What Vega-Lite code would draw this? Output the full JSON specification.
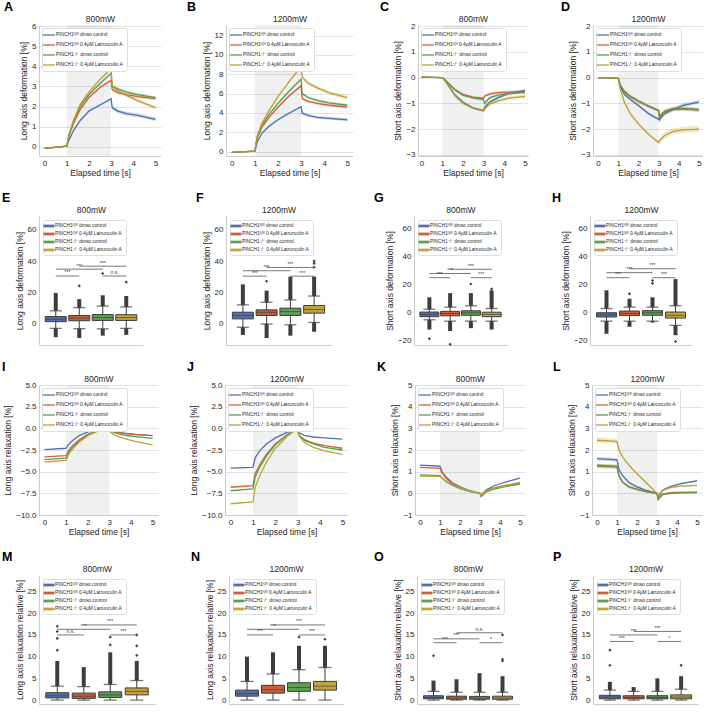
{
"$schema": "https://vega.github.io/schema/vega-lite/v6.json",
"padding": {"left": 2, "top": 0, "right": 0, "bottom": 0},
"spacing": 14,
"resolve": {"scale": {"color": "independent"}},
"datasets": {
"shade": [{"a": 1, "b": 3}],
"lines": [
{"p":"A","g":0,"t":0,"v":-0.07,"e":0.02},{"p":"A","g":0,"t":1,"v":0.04,"e":0.02},{"p":"A","g":0,"t":1.1,"v":0.35,"e":0.05},{"p":"A","g":0,"t":1.3,"v":0.8,"e":0.05},{"p":"A","g":0,"t":1.6,"v":1.3,"e":0.05},{"p":"A","g":0,"t":2,"v":1.78,"e":0.05},{"p":"A","g":0,"t":2.5,"v":2.08,"e":0.05},{"p":"A","g":0,"t":3,"v":2.39,"e":0.05},{"p":"A","g":0,"t":3.05,"v":1.95,"e":0.1},{"p":"A","g":0,"t":3.3,"v":1.78,"e":0.1},{"p":"A","g":0,"t":3.7,"v":1.65,"e":0.1},{"p":"A","g":0,"t":4.2,"v":1.57,"e":0.1},{"p":"A","g":0,"t":5,"v":1.37,"e":0.1},
{"p":"A","g":1,"t":0,"v":-0.07,"e":0.02},{"p":"A","g":1,"t":1,"v":0.04,"e":0.02},{"p":"A","g":1,"t":1.1,"v":0.55,"e":0.05},{"p":"A","g":1,"t":1.3,"v":1.15,"e":0.05},{"p":"A","g":1,"t":1.6,"v":1.85,"e":0.05},{"p":"A","g":1,"t":2,"v":2.45,"e":0.05},{"p":"A","g":1,"t":2.5,"v":2.95,"e":0.05},{"p":"A","g":1,"t":3,"v":3.3,"e":0.05},{"p":"A","g":1,"t":3.05,"v":2.85,"e":0.08},{"p":"A","g":1,"t":3.3,"v":2.7,"e":0.08},{"p":"A","g":1,"t":3.7,"v":2.6,"e":0.08},{"p":"A","g":1,"t":4.2,"v":2.5,"e":0.08},{"p":"A","g":1,"t":5,"v":2.4,"e":0.08},
{"p":"A","g":2,"t":0,"v":-0.07,"e":0.02},{"p":"A","g":2,"t":1,"v":0.04,"e":0.02},{"p":"A","g":2,"t":1.1,"v":0.6,"e":0.05},{"p":"A","g":2,"t":1.3,"v":1.25,"e":0.05},{"p":"A","g":2,"t":1.6,"v":2.0,"e":0.05},{"p":"A","g":2,"t":2,"v":2.6,"e":0.05},{"p":"A","g":2,"t":2.5,"v":3.15,"e":0.05},{"p":"A","g":2,"t":3,"v":3.65,"e":0.05},{"p":"A","g":2,"t":3.05,"v":3.0,"e":0.08},{"p":"A","g":2,"t":3.3,"v":2.88,"e":0.08},{"p":"A","g":2,"t":3.7,"v":2.72,"e":0.08},{"p":"A","g":2,"t":4.2,"v":2.6,"e":0.08},{"p":"A","g":2,"t":5,"v":2.45,"e":0.08},
{"p":"A","g":3,"t":0,"v":-0.07,"e":0.02},{"p":"A","g":3,"t":1,"v":0.04,"e":0.02},{"p":"A","g":3,"t":1.1,"v":0.6,"e":0.05},{"p":"A","g":3,"t":1.3,"v":1.3,"e":0.05},{"p":"A","g":3,"t":1.6,"v":2.1,"e":0.05},{"p":"A","g":3,"t":2,"v":2.72,"e":0.05},{"p":"A","g":3,"t":2.5,"v":3.35,"e":0.05},{"p":"A","g":3,"t":3,"v":3.88,"e":0.05},{"p":"A","g":3,"t":3.05,"v":3.0,"e":0.08},{"p":"A","g":3,"t":3.3,"v":2.8,"e":0.08},{"p":"A","g":3,"t":3.7,"v":2.55,"e":0.08},{"p":"A","g":3,"t":4.2,"v":2.3,"e":0.08},{"p":"A","g":3,"t":5,"v":1.95,"e":0.08},
{"p":"B","g":0,"t":0,"v":-0.08,"e":0.03},{"p":"B","g":0,"t":1,"v":0.05,"e":0.03},{"p":"B","g":0,"t":1.1,"v":1.0,"e":0.1},{"p":"B","g":0,"t":1.3,"v":1.9,"e":0.1},{"p":"B","g":0,"t":1.6,"v":2.6,"e":0.1},{"p":"B","g":0,"t":2,"v":3.3,"e":0.1},{"p":"B","g":0,"t":2.5,"v":4.0,"e":0.1},{"p":"B","g":0,"t":3,"v":4.65,"e":0.1},{"p":"B","g":0,"t":3.05,"v":4.0,"e":0.15},{"p":"B","g":0,"t":3.3,"v":3.75,"e":0.15},{"p":"B","g":0,"t":3.7,"v":3.55,"e":0.15},{"p":"B","g":0,"t":4.2,"v":3.45,"e":0.15},{"p":"B","g":0,"t":5,"v":3.3,"e":0.15},
{"p":"B","g":1,"t":0,"v":-0.08,"e":0.03},{"p":"B","g":1,"t":1,"v":0.05,"e":0.03},{"p":"B","g":1,"t":1.1,"v":1.4,"e":0.1},{"p":"B","g":1,"t":1.3,"v":2.5,"e":0.1},{"p":"B","g":1,"t":1.6,"v":3.5,"e":0.1},{"p":"B","g":1,"t":2,"v":4.6,"e":0.1},{"p":"B","g":1,"t":2.5,"v":5.8,"e":0.1},{"p":"B","g":1,"t":3,"v":6.8,"e":0.1},{"p":"B","g":1,"t":3.05,"v":5.5,"e":0.15},{"p":"B","g":1,"t":3.3,"v":5.2,"e":0.15},{"p":"B","g":1,"t":3.7,"v":5.0,"e":0.15},{"p":"B","g":1,"t":4.2,"v":4.8,"e":0.15},{"p":"B","g":1,"t":5,"v":4.6,"e":0.15},
{"p":"B","g":2,"t":0,"v":-0.08,"e":0.03},{"p":"B","g":2,"t":1,"v":0.05,"e":0.03},{"p":"B","g":2,"t":1.1,"v":1.5,"e":0.1},{"p":"B","g":2,"t":1.3,"v":2.7,"e":0.1},{"p":"B","g":2,"t":1.6,"v":3.8,"e":0.1},{"p":"B","g":2,"t":2,"v":5.0,"e":0.1},{"p":"B","g":2,"t":2.5,"v":6.3,"e":0.1},{"p":"B","g":2,"t":3,"v":7.5,"e":0.1},{"p":"B","g":2,"t":3.05,"v":6.0,"e":0.15},{"p":"B","g":2,"t":3.3,"v":5.6,"e":0.15},{"p":"B","g":2,"t":3.7,"v":5.3,"e":0.15},{"p":"B","g":2,"t":4.2,"v":5.05,"e":0.15},{"p":"B","g":2,"t":5,"v":4.8,"e":0.15},
{"p":"B","g":3,"t":0,"v":-0.08,"e":0.03},{"p":"B","g":3,"t":1,"v":0.05,"e":0.03},{"p":"B","g":3,"t":1.1,"v":1.6,"e":0.1},{"p":"B","g":3,"t":1.3,"v":2.9,"e":0.1},{"p":"B","g":3,"t":1.6,"v":4.2,"e":0.1},{"p":"B","g":3,"t":2,"v":5.7,"e":0.1},{"p":"B","g":3,"t":2.5,"v":7.3,"e":0.1},{"p":"B","g":3,"t":3,"v":8.8,"e":0.1},{"p":"B","g":3,"t":3.05,"v":7.7,"e":0.2},{"p":"B","g":3,"t":3.3,"v":7.1,"e":0.2},{"p":"B","g":3,"t":3.7,"v":6.6,"e":0.2},{"p":"B","g":3,"t":4.2,"v":6.1,"e":0.2},{"p":"B","g":3,"t":5,"v":5.6,"e":0.2},
{"p":"C","g":0,"t":0,"v":0.02,"e":0.01},{"p":"C","g":0,"t":1,"v":0,"e":0.01},{"p":"C","g":0,"t":1.1,"v":-0.08,"e":0.04},{"p":"C","g":0,"t":1.3,"v":-0.3,"e":0.04},{"p":"C","g":0,"t":1.6,"v":-0.65,"e":0.04},{"p":"C","g":0,"t":2,"v":-0.95,"e":0.04},{"p":"C","g":0,"t":2.5,"v":-1.18,"e":0.04},{"p":"C","g":0,"t":3,"v":-1.28,"e":0.04},{"p":"C","g":0,"t":3.05,"v":-1.15,"e":0.06},{"p":"C","g":0,"t":3.3,"v":-0.95,"e":0.06},{"p":"C","g":0,"t":3.7,"v":-0.78,"e":0.06},{"p":"C","g":0,"t":4.2,"v":-0.62,"e":0.06},{"p":"C","g":0,"t":5,"v":-0.5,"e":0.06},
{"p":"C","g":1,"t":0,"v":0.02,"e":0.01},{"p":"C","g":1,"t":1,"v":0,"e":0.01},{"p":"C","g":1,"t":1.1,"v":-0.06,"e":0.04},{"p":"C","g":1,"t":1.3,"v":-0.22,"e":0.04},{"p":"C","g":1,"t":1.6,"v":-0.45,"e":0.04},{"p":"C","g":1,"t":2,"v":-0.65,"e":0.04},{"p":"C","g":1,"t":2.5,"v":-0.76,"e":0.04},{"p":"C","g":1,"t":3,"v":-0.8,"e":0.04},{"p":"C","g":1,"t":3.05,"v":-0.72,"e":0.06},{"p":"C","g":1,"t":3.3,"v":-0.63,"e":0.06},{"p":"C","g":1,"t":3.7,"v":-0.58,"e":0.06},{"p":"C","g":1,"t":4.2,"v":-0.56,"e":0.06},{"p":"C","g":1,"t":5,"v":-0.55,"e":0.06},
{"p":"C","g":2,"t":0,"v":0.02,"e":0.01},{"p":"C","g":2,"t":1,"v":0,"e":0.01},{"p":"C","g":2,"t":1.1,"v":-0.06,"e":0.04},{"p":"C","g":2,"t":1.3,"v":-0.22,"e":0.04},{"p":"C","g":2,"t":1.6,"v":-0.47,"e":0.04},{"p":"C","g":2,"t":2,"v":-0.68,"e":0.04},{"p":"C","g":2,"t":2.5,"v":-0.8,"e":0.04},{"p":"C","g":2,"t":3,"v":-0.85,"e":0.04},{"p":"C","g":2,"t":3.05,"v":-1.0,"e":0.06},{"p":"C","g":2,"t":3.3,"v":-0.78,"e":0.06},{"p":"C","g":2,"t":3.7,"v":-0.68,"e":0.06},{"p":"C","g":2,"t":4.2,"v":-0.62,"e":0.06},{"p":"C","g":2,"t":5,"v":-0.57,"e":0.06},
{"p":"C","g":3,"t":0,"v":0.02,"e":0.01},{"p":"C","g":3,"t":1,"v":0,"e":0.01},{"p":"C","g":3,"t":1.1,"v":-0.08,"e":0.04},{"p":"C","g":3,"t":1.3,"v":-0.32,"e":0.04},{"p":"C","g":3,"t":1.6,"v":-0.7,"e":0.04},{"p":"C","g":3,"t":2,"v":-1.0,"e":0.04},{"p":"C","g":3,"t":2.5,"v":-1.2,"e":0.04},{"p":"C","g":3,"t":3,"v":-1.3,"e":0.04},{"p":"C","g":3,"t":3.05,"v":-1.22,"e":0.08},{"p":"C","g":3,"t":3.3,"v":-1.02,"e":0.08},{"p":"C","g":3,"t":3.7,"v":-0.9,"e":0.08},{"p":"C","g":3,"t":4.2,"v":-0.8,"e":0.08},{"p":"C","g":3,"t":5,"v":-0.73,"e":0.08},
{"p":"D","g":0,"t":0,"v":0,"e":0.01},{"p":"D","g":0,"t":1,"v":-0.02,"e":0.01},{"p":"D","g":0,"t":1.1,"v":-0.35,"e":0.05},{"p":"D","g":0,"t":1.3,"v":-0.65,"e":0.05},{"p":"D","g":0,"t":1.6,"v":-0.85,"e":0.05},{"p":"D","g":0,"t":2,"v":-1.08,"e":0.05},{"p":"D","g":0,"t":2.5,"v":-1.4,"e":0.05},{"p":"D","g":0,"t":3,"v":-1.62,"e":0.05},{"p":"D","g":0,"t":3.05,"v":-1.55,"e":0.08},{"p":"D","g":0,"t":3.3,"v":-1.4,"e":0.08},{"p":"D","g":0,"t":3.7,"v":-1.25,"e":0.08},{"p":"D","g":0,"t":4.2,"v":-1.08,"e":0.08},{"p":"D","g":0,"t":5,"v":-0.95,"e":0.08},
{"p":"D","g":1,"t":0,"v":0,"e":0.01},{"p":"D","g":1,"t":1,"v":-0.02,"e":0.01},{"p":"D","g":1,"t":1.1,"v":-0.3,"e":0.05},{"p":"D","g":1,"t":1.3,"v":-0.55,"e":0.05},{"p":"D","g":1,"t":1.6,"v":-0.75,"e":0.05},{"p":"D","g":1,"t":2,"v":-0.93,"e":0.05},{"p":"D","g":1,"t":2.5,"v":-1.12,"e":0.05},{"p":"D","g":1,"t":3,"v":-1.28,"e":0.05},{"p":"D","g":1,"t":3.05,"v":-1.5,"e":0.08},{"p":"D","g":1,"t":3.3,"v":-1.3,"e":0.08},{"p":"D","g":1,"t":3.7,"v":-1.22,"e":0.08},{"p":"D","g":1,"t":4.2,"v":-1.22,"e":0.08},{"p":"D","g":1,"t":5,"v":-1.25,"e":0.08},
{"p":"D","g":2,"t":0,"v":0,"e":0.01},{"p":"D","g":2,"t":1,"v":-0.02,"e":0.01},{"p":"D","g":2,"t":1.1,"v":-0.28,"e":0.05},{"p":"D","g":2,"t":1.3,"v":-0.52,"e":0.05},{"p":"D","g":2,"t":1.6,"v":-0.72,"e":0.05},{"p":"D","g":2,"t":2,"v":-0.9,"e":0.05},{"p":"D","g":2,"t":2.5,"v":-1.1,"e":0.05},{"p":"D","g":2,"t":3,"v":-1.28,"e":0.05},{"p":"D","g":2,"t":3.05,"v":-1.65,"e":0.08},{"p":"D","g":2,"t":3.3,"v":-1.35,"e":0.08},{"p":"D","g":2,"t":3.7,"v":-1.22,"e":0.08},{"p":"D","g":2,"t":4.2,"v":-1.2,"e":0.08},{"p":"D","g":2,"t":5,"v":-1.25,"e":0.08},
{"p":"D","g":3,"t":0,"v":0,"e":0.01},{"p":"D","g":3,"t":1,"v":-0.02,"e":0.01},{"p":"D","g":3,"t":1.1,"v":-0.45,"e":0.05},{"p":"D","g":3,"t":1.3,"v":-0.95,"e":0.05},{"p":"D","g":3,"t":1.6,"v":-1.4,"e":0.05},{"p":"D","g":3,"t":2,"v":-1.8,"e":0.05},{"p":"D","g":3,"t":2.5,"v":-2.2,"e":0.05},{"p":"D","g":3,"t":3,"v":-2.52,"e":0.05},{"p":"D","g":3,"t":3.05,"v":-2.45,"e":0.12},{"p":"D","g":3,"t":3.3,"v":-2.25,"e":0.12},{"p":"D","g":3,"t":3.7,"v":-2.1,"e":0.12},{"p":"D","g":3,"t":4.2,"v":-2.03,"e":0.12},{"p":"D","g":3,"t":5,"v":-2.0,"e":0.12},
{"p":"I","g":0,"t":0,"v":-2.45},{"p":"I","g":0,"t":1,"v":-2.3},{"p":"I","g":0,"t":1.1,"v":-1.9},{"p":"I","g":0,"t":1.3,"v":-1.4},{"p":"I","g":0,"t":1.6,"v":-0.85},{"p":"I","g":0,"t":2,"v":-0.42},{"p":"I","g":0,"t":2.5,"v":-0.15},{"p":"I","g":0,"t":3,"v":0},{"p":"I","g":0,"t":3.05,"v":-0.15},{"p":"I","g":0,"t":3.3,"v":-0.4},{"p":"I","g":0,"t":3.7,"v":-0.55},{"p":"I","g":0,"t":4.2,"v":-0.7},{"p":"I","g":0,"t":5,"v":-0.85},
{"p":"I","g":1,"t":0,"v":-3.3},{"p":"I","g":1,"t":1,"v":-3.15},{"p":"I","g":1,"t":1.1,"v":-2.6},{"p":"I","g":1,"t":1.3,"v":-2.0},{"p":"I","g":1,"t":1.6,"v":-1.35},{"p":"I","g":1,"t":2,"v":-0.7},{"p":"I","g":1,"t":2.5,"v":-0.25},{"p":"I","g":1,"t":3,"v":0},{"p":"I","g":1,"t":3.05,"v":-0.2},{"p":"I","g":1,"t":3.3,"v":-0.4},{"p":"I","g":1,"t":3.7,"v":-0.6},{"p":"I","g":1,"t":4.2,"v":-0.72},{"p":"I","g":1,"t":5,"v":-0.85},
{"p":"I","g":2,"t":0,"v":-3.6},{"p":"I","g":2,"t":1,"v":-3.45},{"p":"I","g":2,"t":1.1,"v":-2.85},{"p":"I","g":2,"t":1.3,"v":-2.2},{"p":"I","g":2,"t":1.6,"v":-1.45},{"p":"I","g":2,"t":2,"v":-0.75},{"p":"I","g":2,"t":2.5,"v":-0.25},{"p":"I","g":2,"t":3,"v":0},{"p":"I","g":2,"t":3.05,"v":-0.3},{"p":"I","g":2,"t":3.3,"v":-0.55},{"p":"I","g":2,"t":3.7,"v":-0.8},{"p":"I","g":2,"t":4.2,"v":-0.95},{"p":"I","g":2,"t":5,"v":-1.15},
{"p":"I","g":3,"t":0,"v":-3.9},{"p":"I","g":3,"t":1,"v":-3.7},{"p":"I","g":3,"t":1.1,"v":-3.05},{"p":"I","g":3,"t":1.3,"v":-2.4},{"p":"I","g":3,"t":1.6,"v":-1.6},{"p":"I","g":3,"t":2,"v":-0.85},{"p":"I","g":3,"t":2.5,"v":-0.3},{"p":"I","g":3,"t":3,"v":0},{"p":"I","g":3,"t":3.05,"v":-0.45},{"p":"I","g":3,"t":3.3,"v":-0.85},{"p":"I","g":3,"t":3.7,"v":-1.2},{"p":"I","g":3,"t":4.2,"v":-1.5},{"p":"I","g":3,"t":5,"v":-1.9},
{"p":"J","g":0,"t":0,"v":-4.6},{"p":"J","g":0,"t":1,"v":-4.5},{"p":"J","g":0,"t":1.1,"v":-3.4},{"p":"J","g":0,"t":1.3,"v":-2.6},{"p":"J","g":0,"t":1.6,"v":-1.8},{"p":"J","g":0,"t":2,"v":-1.1},{"p":"J","g":0,"t":2.5,"v":-0.5},{"p":"J","g":0,"t":3,"v":0},{"p":"J","g":0,"t":3.05,"v":-0.5},{"p":"J","g":0,"t":3.3,"v":-0.8},{"p":"J","g":0,"t":3.7,"v":-1.0},{"p":"J","g":0,"t":4.2,"v":-1.1},{"p":"J","g":0,"t":5,"v":-1.25},
{"p":"J","g":1,"t":0,"v":-6.8},{"p":"J","g":1,"t":1,"v":-6.6},{"p":"J","g":1,"t":1.1,"v":-5.2},{"p":"J","g":1,"t":1.3,"v":-4.2},{"p":"J","g":1,"t":1.6,"v":-3.0},{"p":"J","g":1,"t":2,"v":-1.8},{"p":"J","g":1,"t":2.5,"v":-0.8},{"p":"J","g":1,"t":3,"v":0},{"p":"J","g":1,"t":3.05,"v":-0.8},{"p":"J","g":1,"t":3.3,"v":-1.3},{"p":"J","g":1,"t":3.7,"v":-1.7},{"p":"J","g":1,"t":4.2,"v":-2.0},{"p":"J","g":1,"t":5,"v":-2.3},
{"p":"J","g":2,"t":0,"v":-7.2},{"p":"J","g":2,"t":1,"v":-7.0},{"p":"J","g":2,"t":1.1,"v":-5.6},{"p":"J","g":2,"t":1.3,"v":-4.5},{"p":"J","g":2,"t":1.6,"v":-3.2},{"p":"J","g":2,"t":2,"v":-1.9},{"p":"J","g":2,"t":2.5,"v":-0.8},{"p":"J","g":2,"t":3,"v":0},{"p":"J","g":2,"t":3.05,"v":-0.8},{"p":"J","g":2,"t":3.3,"v":-1.4},{"p":"J","g":2,"t":3.7,"v":-1.8},{"p":"J","g":2,"t":4.2,"v":-2.2},{"p":"J","g":2,"t":5,"v":-2.5},
{"p":"J","g":3,"t":0,"v":-8.7},{"p":"J","g":3,"t":1,"v":-8.5},{"p":"J","g":3,"t":1.1,"v":-6.8},{"p":"J","g":3,"t":1.3,"v":-5.5},{"p":"J","g":3,"t":1.6,"v":-3.9},{"p":"J","g":3,"t":2,"v":-2.3},{"p":"J","g":3,"t":2.5,"v":-1.0},{"p":"J","g":3,"t":3,"v":0},{"p":"J","g":3,"t":3.05,"v":-0.9},{"p":"J","g":3,"t":3.3,"v":-1.6},{"p":"J","g":3,"t":3.7,"v":-2.2},{"p":"J","g":3,"t":4.2,"v":-2.6},{"p":"J","g":3,"t":5,"v":-3.0},
{"p":"K","g":0,"t":0,"v":1.3},{"p":"K","g":0,"t":1,"v":1.25},{"p":"K","g":0,"t":1.1,"v":1.0},{"p":"K","g":0,"t":1.3,"v":0.75},{"p":"K","g":0,"t":1.6,"v":0.5},{"p":"K","g":0,"t":2,"v":0.3},{"p":"K","g":0,"t":2.5,"v":0.12},{"p":"K","g":0,"t":3,"v":0},{"p":"K","g":0,"t":3.05,"v":-0.1},{"p":"K","g":0,"t":3.3,"v":0.15},{"p":"K","g":0,"t":3.7,"v":0.35},{"p":"K","g":0,"t":4.2,"v":0.5},{"p":"K","g":0,"t":5,"v":0.7},
{"p":"K","g":1,"t":0,"v":1.2},{"p":"K","g":1,"t":1,"v":1.15},{"p":"K","g":1,"t":1.1,"v":0.95},{"p":"K","g":1,"t":1.3,"v":0.7},{"p":"K","g":1,"t":1.6,"v":0.45},{"p":"K","g":1,"t":2,"v":0.25},{"p":"K","g":1,"t":2.5,"v":0.1},{"p":"K","g":1,"t":3,"v":0},{"p":"K","g":1,"t":3.05,"v":-0.05},{"p":"K","g":1,"t":3.3,"v":0.1},{"p":"K","g":1,"t":3.7,"v":0.25},{"p":"K","g":1,"t":4.2,"v":0.35},{"p":"K","g":1,"t":5,"v":0.45},
{"p":"K","g":2,"t":0,"v":0.85},{"p":"K","g":2,"t":1,"v":0.82},{"p":"K","g":2,"t":1.1,"v":0.7},{"p":"K","g":2,"t":1.3,"v":0.55},{"p":"K","g":2,"t":1.6,"v":0.38},{"p":"K","g":2,"t":2,"v":0.22},{"p":"K","g":2,"t":2.5,"v":0.08},{"p":"K","g":2,"t":3,"v":0},{"p":"K","g":2,"t":3.05,"v":-0.15},{"p":"K","g":2,"t":3.3,"v":0.05},{"p":"K","g":2,"t":3.7,"v":0.2},{"p":"K","g":2,"t":4.2,"v":0.3},{"p":"K","g":2,"t":5,"v":0.42},
{"p":"K","g":3,"t":0,"v":0.8},{"p":"K","g":3,"t":1,"v":0.78},{"p":"K","g":3,"t":1.1,"v":0.7},{"p":"K","g":3,"t":1.3,"v":0.58},{"p":"K","g":3,"t":1.6,"v":0.42},{"p":"K","g":3,"t":2,"v":0.25},{"p":"K","g":3,"t":2.5,"v":0.1},{"p":"K","g":3,"t":3,"v":0},{"p":"K","g":3,"t":3.05,"v":-0.08},{"p":"K","g":3,"t":3.3,"v":0.1},{"p":"K","g":3,"t":3.7,"v":0.25},{"p":"K","g":3,"t":4.2,"v":0.35},{"p":"K","g":3,"t":5,"v":0.5},
{"p":"L","g":0,"t":0,"v":1.6,"e":0.08},{"p":"L","g":0,"t":1,"v":1.55,"e":0.08},{"p":"L","g":0,"t":1.1,"v":1.1,"e":0.05},{"p":"L","g":0,"t":1.3,"v":0.8,"e":0.05},{"p":"L","g":0,"t":1.6,"v":0.5,"e":0.05},{"p":"L","g":0,"t":2,"v":0.3,"e":0.05},{"p":"L","g":0,"t":2.5,"v":0.12,"e":0.05},{"p":"L","g":0,"t":3,"v":0,"e":0.04},{"p":"L","g":0,"t":3.05,"v":-0.15,"e":0.04},{"p":"L","g":0,"t":3.3,"v":0.15,"e":0.04},{"p":"L","g":0,"t":3.7,"v":0.32,"e":0.04},{"p":"L","g":0,"t":4.2,"v":0.45,"e":0.04},{"p":"L","g":0,"t":5,"v":0.58,"e":0.04},
{"p":"L","g":1,"t":0,"v":1.3,"e":0.08},{"p":"L","g":1,"t":1,"v":1.25,"e":0.08},{"p":"L","g":1,"t":1.1,"v":0.8,"e":0.05},{"p":"L","g":1,"t":1.3,"v":0.5,"e":0.05},{"p":"L","g":1,"t":1.6,"v":0.3,"e":0.05},{"p":"L","g":1,"t":2,"v":0.18,"e":0.05},{"p":"L","g":1,"t":2.5,"v":0.08,"e":0.05},{"p":"L","g":1,"t":3,"v":0,"e":0.04},{"p":"L","g":1,"t":3.05,"v":-0.2,"e":0.04},{"p":"L","g":1,"t":3.3,"v":-0.02,"e":0.04},{"p":"L","g":1,"t":3.7,"v":0.03,"e":0.04},{"p":"L","g":1,"t":4.2,"v":0.04,"e":0.04},{"p":"L","g":1,"t":5,"v":0.05,"e":0.04},
{"p":"L","g":2,"t":0,"v":1.25,"e":0.1},{"p":"L","g":2,"t":1,"v":1.22,"e":0.1},{"p":"L","g":2,"t":1.1,"v":0.8,"e":0.05},{"p":"L","g":2,"t":1.3,"v":0.5,"e":0.05},{"p":"L","g":2,"t":1.6,"v":0.3,"e":0.05},{"p":"L","g":2,"t":2,"v":0.18,"e":0.05},{"p":"L","g":2,"t":2.5,"v":0.08,"e":0.05},{"p":"L","g":2,"t":3,"v":0,"e":0.04},{"p":"L","g":2,"t":3.05,"v":-0.3,"e":0.04},{"p":"L","g":2,"t":3.3,"v":-0.05,"e":0.04},{"p":"L","g":2,"t":3.7,"v":0,"e":0.04},{"p":"L","g":2,"t":4.2,"v":0.02,"e":0.04},{"p":"L","g":2,"t":5,"v":0.03,"e":0.04},
{"p":"L","g":3,"t":0,"v":2.45,"e":0.12},{"p":"L","g":3,"t":1,"v":2.4,"e":0.12},{"p":"L","g":3,"t":1.1,"v":2.0,"e":0.05},{"p":"L","g":3,"t":1.3,"v":1.65,"e":0.05},{"p":"L","g":3,"t":1.6,"v":1.3,"e":0.05},{"p":"L","g":3,"t":2,"v":0.9,"e":0.05},{"p":"L","g":3,"t":2.5,"v":0.45,"e":0.05},{"p":"L","g":3,"t":3,"v":0,"e":0.04},{"p":"L","g":3,"t":3.05,"v":-0.1,"e":0.04},{"p":"L","g":3,"t":3.3,"v":0.15,"e":0.04},{"p":"L","g":3,"t":3.7,"v":0.28,"e":0.04},{"p":"L","g":3,"t":4.2,"v":0.33,"e":0.04},{"p":"L","g":3,"t":5,"v":0.37,"e":0.04}
],
"box": [
{"p":"E","g":0,"q1":1.0,"md":2.6,"q3":4.3,"wl":-3.3,"wh":8,"ol":-9,"oh":19.5},
{"p":"E","g":1,"q1":1.6,"md":3.3,"q3":5.0,"wl":-3.5,"wh":10,"ol":-9.5,"oh":15.5},
{"p":"E","g":2,"q1":1.8,"md":3.6,"q3":5.6,"wl":-3.6,"wh":11,"ol":-8,"oh":18},
{"p":"E","g":3,"q1":1.8,"md":3.6,"q3":5.5,"wl":-3.3,"wh":10.5,"ol":-7.5,"oh":17.5},
{"p":"F","g":0,"q1":2.8,"md":5,"q3":7.1,"wl":-2.6,"wh":11.8,"ol":-7.5,"oh":25},
{"p":"F","g":1,"q1":5,"md":7,"q3":8.6,"wl":-0.5,"wh":13.5,"ol":-9.5,"oh":21},
{"p":"F","g":2,"q1":5,"md":7.5,"q3":9.7,"wl":-1,"wh":15,"ol":-8,"oh":30},
{"p":"F","g":3,"q1":6.5,"md":8.8,"q3":11.4,"wl":0.5,"wh":17.5,"ol":-5.5,"oh":30},
{"p":"G","g":0,"q1":-2.8,"md":-1.2,"q3":0.5,"wl":-5,"wh":2.5,"ol":-12,"oh":11},
{"p":"G","g":1,"q1":-2.2,"md":-0.6,"q3":1.0,"wl":-6,"wh":4,"ol":-13,"oh":14},
{"p":"G","g":2,"q1":-1.8,"md":0,"q3":1.4,"wl":-6,"wh":5,"ol":-11,"oh":14},
{"p":"G","g":3,"q1":-2.8,"md":-1.2,"q3":0.4,"wl":-6,"wh":3,"ol":-12,"oh":16},
{"p":"H","g":0,"q1":-3,"md":-1.5,"q3":0,"wl":-6,"wh":3,"ol":-15,"oh":16},
{"p":"H","g":1,"q1":-2,"md":-0.5,"q3":1.2,"wl":-6,"wh":4,"ol":-10,"oh":10},
{"p":"H","g":2,"q1":-1.8,"md":0,"q3":1.5,"wl":-6,"wh":4,"ol":-7,"oh":11},
{"p":"H","g":3,"q1":-3.8,"md":-1.8,"q3":0.5,"wl":-9,"wh":5,"ol":-16,"oh":24},
{"p":"M","g":0,"q1":0.5,"md":1.0,"q3":1.7,"wl":0,"wh":3.2,"ol":0,"oh":9},
{"p":"M","g":1,"q1":0.4,"md":0.9,"q3":1.6,"wl":0,"wh":3.1,"ol":0,"oh":7.6},
{"p":"M","g":2,"q1":0.6,"md":1.2,"q3":1.9,"wl":0,"wh":3.6,"ol":0,"oh":11},
{"p":"M","g":3,"q1":1.2,"md":2.0,"q3":2.8,"wl":0,"wh":4.5,"ol":0,"oh":9},
{"p":"N","g":0,"q1":0.9,"md":1.5,"q3":2.3,"wl":0,"wh":4.3,"ol":0,"oh":10},
{"p":"N","g":1,"q1":1.6,"md":2.4,"q3":3.4,"wl":0,"wh":6,"ol":0,"oh":11},
{"p":"N","g":2,"q1":2.0,"md":2.9,"q3":4.0,"wl":0,"wh":7,"ol":0,"oh":12.5},
{"p":"N","g":3,"q1":2.3,"md":3.2,"q3":4.3,"wl":0,"wh":7.5,"ol":0,"oh":12.5},
{"p":"O","g":0,"q1":0.3,"md":0.6,"q3":1.0,"wl":0,"wh":2.0,"ol":0,"oh":4.5},
{"p":"O","g":1,"q1":0.2,"md":0.5,"q3":0.9,"wl":0,"wh":1.8,"ol":0,"oh":4.8},
{"p":"O","g":2,"q1":0.2,"md":0.45,"q3":0.85,"wl":0,"wh":1.8,"ol":0,"oh":6.2},
{"p":"O","g":3,"q1":0.2,"md":0.5,"q3":0.9,"wl":0,"wh":1.8,"ol":0,"oh":5.5},
{"p":"P","g":0,"q1":0.3,"md":0.7,"q3":1.1,"wl":0,"wh":2.3,"ol":0,"oh":4.2},
{"p":"P","g":1,"q1":0.3,"md":0.6,"q3":1.0,"wl":0,"wh":2.0,"ol":0,"oh":3},
{"p":"P","g":2,"q1":0.3,"md":0.6,"q3":1.0,"wl":0,"wh":2.0,"ol":0,"oh":5},
{"p":"P","g":3,"q1":0.3,"md":0.7,"q3":1.2,"wl":0,"wh":2.5,"ol":0,"oh":5.5}
],
"out": [
{"p":"E","g":1,"v":24},{"p":"E","g":2,"v":32},{"p":"E","g":3,"v":26.5},
{"p":"F","g":1,"v":27},{"p":"F","g":3,"v":36},{"p":"F","g":3,"v":38.5},{"p":"F","g":3,"v":40},
{"p":"G","g":0,"v":-18.5},{"p":"G","g":1,"v":-22.5},{"p":"G","g":2,"v":20.5},{"p":"G","g":3,"v":17},
{"p":"H","g":1,"v":13.5},{"p":"H","g":2,"v":21},{"p":"H","g":2,"v":23},{"p":"H","g":3,"v":-20.5},
{"p":"M","g":0,"v":11.5},{"p":"M","g":0,"v":14.2},{"p":"M","g":0,"v":15.8},{"p":"M","g":0,"v":17},{"p":"M","g":2,"v":12.7},{"p":"M","g":2,"v":14.5},{"p":"M","g":3,"v":10.3},{"p":"M","g":3,"v":12.5},{"p":"M","g":3,"v":15},
{"p":"N","g":2,"v":14.5},{"p":"N","g":3,"v":14},
{"p":"O","g":0,"v":10.2},{"p":"O","g":3,"v":9},{"p":"O","g":3,"v":9.4},{"p":"O","g":3,"v":15},
{"p":"P","g":0,"v":8},{"p":"P","g":0,"v":11.5},{"p":"P","g":3,"v":8}
],
"sig": [
{"p":"E","a":1,"b":3,"m":2,"y":36.7,"s":"***"},{"p":"E","a":0,"b":2,"m":1,"y":34.8,"s":"***"},{"p":"E","a":0,"b":1,"m":0.5,"y":30.4,"s":"***"},{"p":"E","a":2,"b":3,"m":2.5,"y":30.4,"s":"n.s."},
{"p":"F","a":1,"b":3,"m":2,"y":35.9,"s":"***"},{"p":"F","a":0,"b":2,"m":1,"y":33.8,"s":"***"},{"p":"F","a":0,"b":1,"m":0.5,"y":30.3,"s":"***"},{"p":"F","a":2,"b":3,"m":2.5,"y":30.3,"s":"***"},
{"p":"G","a":1,"b":3,"m":2,"y":31,"s":"***"},{"p":"G","a":0,"b":2,"m":1,"y":28,"s":"***"},{"p":"G","a":0,"b":1,"m":0.5,"y":25,"s":"***"},{"p":"G","a":2,"b":3,"m":2.5,"y":25,"s":"***"},
{"p":"H","a":1,"b":3,"m":2,"y":31.4,"s":"***"},{"p":"H","a":0,"b":2,"m":1,"y":28.6,"s":"***"},{"p":"H","a":0,"b":1,"m":0.5,"y":25,"s":"***"},{"p":"H","a":2,"b":3,"m":2.5,"y":25,"s":"***"},
{"p":"M","a":1,"b":3,"m":2,"y":17.3,"s":"***"},{"p":"M","a":0,"b":2,"m":1,"y":16.3,"s":"***"},{"p":"M","a":0,"b":1,"m":0.5,"y":15,"s":"n.s."},{"p":"M","a":2,"b":3,"m":2.5,"y":15,"s":"***"},
{"p":"N","a":1,"b":3,"m":2,"y":17.3,"s":"***"},{"p":"N","a":0,"b":2,"m":1,"y":16.3,"s":"***"},{"p":"N","a":0,"b":1,"m":0.5,"y":15,"s":"***"},{"p":"N","a":2,"b":3,"m":2.5,"y":15,"s":"***"},
{"p":"O","a":1,"b":3,"m":2,"y":15.5,"s":"n.s."},{"p":"O","a":0,"b":2,"m":1,"y":14.1,"s":"***"},{"p":"O","a":0,"b":1,"m":0.5,"y":13.2,"s":"***"},{"p":"O","a":2,"b":3,"m":2.5,"y":13.2,"s":"*"},
{"p":"P","a":1,"b":3,"m":2,"y":15.8,"s":"***"},{"p":"P","a":0,"b":2,"m":1,"y":15,"s":"***"},{"p":"P","a":0,"b":1,"m":0.5,"y":13.5,"s":"***"},{"p":"P","a":2,"b":3,"m":2.5,"y":13.5,"s":"*"}
]
},
"vconcat": [
{"hconcat": [
{"width":122,"height":131,"title":{"text":"A","dx":-35},"resolve":{"axis":{"x":"independent","y":"independent"}},"layer":[
{"data":{"name":"shade"},"mark":{"type":"rect","fill":"#000000","fillOpacity":0.06},"encoding":{"x":{"field":"a","type":"quantitative","scale":{"domain":[-0.25,5.25],"nice":false,"zero":false},"axis":{"orient":"top","title":"800mW","labels":false,"grid":false,"domain":false,"ticks":false,"titlePadding":2}},"x2":{"field":"b"}}},
{"data":{"name":"lines"},"transform":[{"filter":"datum.p==='A'"}],"mark":{"type":"line","strokeWidth":1.3},"encoding":{"x":{"field":"t","type":"quantitative","scale":{"domain":[-0.25,5.25],"nice":false,"zero":false},"axis":{"title":"Elapsed time [s]","values":[0,1,2,3,4,5]}},"y":{"field":"v","type":"quantitative","scale":{"domain":[-0.45,6.05],"nice":false,"zero":false},"axis":{"title":"Long axis deformation [%]","values":[0,1,2,3,4,5,6]}},"color":{"field":"g","type":"nominal","scale":{"domain":[0,1,2,3],"range":["#4C72B0","#D65F35","#55A150","#BFA233"]},"legend":{"title":null,"symbolType":"M-2,0H2","symbolSize":36,"symbolStrokeWidth":1.3,"labelExpr":"['PINCH1ᶠˡ/ᶠˡ dmso control','PINCH1ᶠˡ/ᶠˡ 0.4µM Latrunculin A','PINCH1⁻/⁻ dmso control','PINCH1⁻/⁻ 0.4µM Latrunculin A'][datum.value]"}}}},
{"data":{"name":"lines"},"transform":[{"filter":"datum.p==='A'"}],"mark":{"type":"errorband","opacity":0.25},"encoding":{"x":{"field":"t","type":"quantitative","scale":{"domain":[-0.25,5.25],"nice":false,"zero":false},"axis":null},"y":{"field":"v","type":"quantitative","scale":{"domain":[-0.45,6.05],"nice":false,"zero":false},"axis":null},"yError":{"field":"e"},"color":{"field":"g","type":"nominal","scale":{"domain":[0,1,2,3],"range":["#4C72B0","#D65F35","#55A150","#BFA233"]},"legend":{"title":null,"symbolType":"M-2,0H2","symbolSize":36,"symbolStrokeWidth":1.3,"labelExpr":"['PINCH1ᶠˡ/ᶠˡ dmso control','PINCH1ᶠˡ/ᶠˡ 0.4µM Latrunculin A','PINCH1⁻/⁻ dmso control','PINCH1⁻/⁻ 0.4µM Latrunculin A'][datum.value]"}}}}
]},
{"width":127,"height":131,"title":{"text":"B","dx":-39},"resolve":{"axis":{"x":"independent","y":"independent"}},"layer":[
{"data":{"name":"shade"},"mark":{"type":"rect","fill":"#000000","fillOpacity":0.06},"encoding":{"x":{"field":"a","type":"quantitative","scale":{"domain":[-0.25,5.25],"nice":false,"zero":false},"axis":{"orient":"top","title":"1200mW","labels":false,"grid":false,"domain":false,"ticks":false,"titlePadding":2}},"x2":{"field":"b"}}},
{"data":{"name":"lines"},"transform":[{"filter":"datum.p==='B'"}],"mark":{"type":"line","strokeWidth":1.3},"encoding":{"x":{"field":"t","type":"quantitative","scale":{"domain":[-0.25,5.25],"nice":false,"zero":false},"axis":{"title":"Elapsed time [s]","values":[0,1,2,3,4,5]}},"y":{"field":"v","type":"quantitative","scale":{"domain":[-0.45,13.1],"nice":false,"zero":false},"axis":{"title":"Long axis deformation [%]","values":[0,2,4,6,8,10,12]}},"color":{"field":"g","type":"nominal","scale":{"domain":[0,1,2,3],"range":["#4C72B0","#D65F35","#55A150","#BFA233"]},"legend":{"title":null,"symbolType":"M-2,0H2","symbolSize":36,"symbolStrokeWidth":1.3,"labelExpr":"['PINCH1ᶠˡ/ᶠˡ dmso control','PINCH1ᶠˡ/ᶠˡ 0.4µM Latrunculin A','PINCH1⁻/⁻ dmso control','PINCH1⁻/⁻ 0.4µM Latrunculin A'][datum.value]"}}}},
{"data":{"name":"lines"},"transform":[{"filter":"datum.p==='B'"}],"mark":{"type":"errorband","opacity":0.25},"encoding":{"x":{"field":"t","type":"quantitative","scale":{"domain":[-0.25,5.25],"nice":false,"zero":false},"axis":null},"y":{"field":"v","type":"quantitative","scale":{"domain":[-0.45,13.1],"nice":false,"zero":false},"axis":null},"yError":{"field":"e"},"color":{"field":"g","type":"nominal","scale":{"domain":[0,1,2,3],"range":["#4C72B0","#D65F35","#55A150","#BFA233"]},"legend":{"title":null,"symbolType":"M-2,0H2","symbolSize":36,"symbolStrokeWidth":1.3,"labelExpr":"['PINCH1ᶠˡ/ᶠˡ dmso control','PINCH1ᶠˡ/ᶠˡ 0.4µM Latrunculin A','PINCH1⁻/⁻ dmso control','PINCH1⁻/⁻ 0.4µM Latrunculin A'][datum.value]"}}}}
]},
{"width":110,"height":131,"title":{"text":"C","dx":-38},"resolve":{"axis":{"x":"independent","y":"independent"}},"layer":[
{"data":{"name":"shade"},"mark":{"type":"rect","fill":"#000000","fillOpacity":0.06},"encoding":{"x":{"field":"a","type":"quantitative","scale":{"domain":[-0.17,5.15],"nice":false,"zero":false},"axis":{"orient":"top","title":"800mW","labels":false,"grid":false,"domain":false,"ticks":false,"titlePadding":2}},"x2":{"field":"b"}}},
{"data":{"name":"lines"},"transform":[{"filter":"datum.p==='C'"}],"mark":{"type":"line","strokeWidth":1.3},"encoding":{"x":{"field":"t","type":"quantitative","scale":{"domain":[-0.17,5.15],"nice":false,"zero":false},"axis":{"title":"Elapsed time [s]","values":[0,1,2,3,4,5]}},"y":{"field":"v","type":"quantitative","scale":{"domain":[-3.05,2.05],"nice":false,"zero":false},"axis":{"title":"Short axis deformation [%]","values":[-3,-2,-1,0,1,2]}},"color":{"field":"g","type":"nominal","scale":{"domain":[0,1,2,3],"range":["#4C72B0","#D65F35","#55A150","#BFA233"]},"legend":{"title":null,"symbolType":"M-2,0H2","symbolSize":36,"symbolStrokeWidth":1.3,"labelExpr":"['PINCH1ᶠˡ/ᶠˡ dmso control','PINCH1ᶠˡ/ᶠˡ 0.4µM Latrunculin A','PINCH1⁻/⁻ dmso control','PINCH1⁻/⁻ 0.4µM Latrunculin A'][datum.value]"}}}},
{"data":{"name":"lines"},"transform":[{"filter":"datum.p==='C'"}],"mark":{"type":"errorband","opacity":0.25},"encoding":{"x":{"field":"t","type":"quantitative","scale":{"domain":[-0.17,5.15],"nice":false,"zero":false},"axis":null},"y":{"field":"v","type":"quantitative","scale":{"domain":[-3.05,2.05],"nice":false,"zero":false},"axis":null},"yError":{"field":"e"},"color":{"field":"g","type":"nominal","scale":{"domain":[0,1,2,3],"range":["#4C72B0","#D65F35","#55A150","#BFA233"]},"legend":{"title":null,"symbolType":"M-2,0H2","symbolSize":36,"symbolStrokeWidth":1.3,"labelExpr":"['PINCH1ᶠˡ/ᶠˡ dmso control','PINCH1ᶠˡ/ᶠˡ 0.4µM Latrunculin A','PINCH1⁻/⁻ dmso control','PINCH1⁻/⁻ 0.4µM Latrunculin A'][datum.value]"}}}}
]},
{"width":110,"height":131,"title":{"text":"D","dx":-32},"resolve":{"axis":{"x":"independent","y":"independent"}},"layer":[
{"data":{"name":"shade"},"mark":{"type":"rect","fill":"#000000","fillOpacity":0.06},"encoding":{"x":{"field":"a","type":"quantitative","scale":{"domain":[-0.25,5.2],"nice":false,"zero":false},"axis":{"orient":"top","title":"1200mW","labels":false,"grid":false,"domain":false,"ticks":false,"titlePadding":2}},"x2":{"field":"b"}}},
{"data":{"name":"lines"},"transform":[{"filter":"datum.p==='D'"}],"mark":{"type":"line","strokeWidth":1.3},"encoding":{"x":{"field":"t","type":"quantitative","scale":{"domain":[-0.25,5.2],"nice":false,"zero":false},"axis":{"title":"Elapsed time [s]","values":[0,1,2,3,4,5]}},"y":{"field":"v","type":"quantitative","scale":{"domain":[-3.05,2.05],"nice":false,"zero":false},"axis":{"title":"Short axis deformation [%]","values":[-3,-2,-1,0,1,2]}},"color":{"field":"g","type":"nominal","scale":{"domain":[0,1,2,3],"range":["#4C72B0","#D65F35","#55A150","#BFA233"]},"legend":{"title":null,"symbolType":"M-2,0H2","symbolSize":36,"symbolStrokeWidth":1.3,"labelExpr":"['PINCH1ᶠˡ/ᶠˡ dmso control','PINCH1ᶠˡ/ᶠˡ 0.4µM Latrunculin A','PINCH1⁻/⁻ dmso control','PINCH1⁻/⁻ 0.4µM Latrunculin A'][datum.value]"}}}},
{"data":{"name":"lines"},"transform":[{"filter":"datum.p==='D'"}],"mark":{"type":"errorband","opacity":0.25},"encoding":{"x":{"field":"t","type":"quantitative","scale":{"domain":[-0.25,5.2],"nice":false,"zero":false},"axis":null},"y":{"field":"v","type":"quantitative","scale":{"domain":[-3.05,2.05],"nice":false,"zero":false},"axis":null},"yError":{"field":"e"},"color":{"field":"g","type":"nominal","scale":{"domain":[0,1,2,3],"range":["#4C72B0","#D65F35","#55A150","#BFA233"]},"legend":{"title":null,"symbolType":"M-2,0H2","symbolSize":36,"symbolStrokeWidth":1.3,"labelExpr":"['PINCH1ᶠˡ/ᶠˡ dmso control','PINCH1ᶠˡ/ᶠˡ 0.4µM Latrunculin A','PINCH1⁻/⁻ dmso control','PINCH1⁻/⁻ 0.4µM Latrunculin A'][datum.value]"}}}}
]}
],"bounds":"flush","spacing":65,"resolve":{"scale":{"color":"independent"}}},
{"hconcat": [
{"width":104,"height":129,"title":{"text":"E","dx":-37},"resolve":{"axis":{"x":"independent","y":"independent"}},"layer":[
{"data":{"name":"sig"},"transform":[{"filter":"datum.p==='E'"}],"mark":{"type":"rule","color":"#555555","strokeWidth":0.8},"encoding":{"x":{"field":"a","type":"quantitative","scale":{"domain":[-0.5,3.5],"nice":false,"zero":false},"axis":{"orient":"top","title":"800mW","labels":false,"grid":false,"domain":false,"ticks":false,"titlePadding":2}},"x2":{"field":"b"},"y":{"field":"y","type":"quantitative","scale":{"domain":[-14,69],"nice":false,"zero":false},"axis":null}}},
{"data":{"name":"sig"},"transform":[{"filter":"datum.p==='E'"}],"mark":{"type":"text","fontSize":5,"baseline":"bottom","dy":-0.5,"color":"#333333"},"encoding":{"x":{"field":"m","type":"quantitative","scale":{"domain":[-0.5,3.5],"nice":false,"zero":false},"axis":null},"y":{"field":"y","type":"quantitative","scale":{"domain":[-14,69],"nice":false,"zero":false},"axis":null},"text":{"field":"s"}}},
{"data":{"name":"box"},"transform":[{"filter":"datum.p==='E'"}],"mark":{"type":"rule","color":"#3d3d3d","strokeWidth":4},"encoding":{"x":{"field":"g","type":"quantitative","scale":{"domain":[-0.5,3.5],"nice":false,"zero":false},"axis":null},"y":{"field":"wh","type":"quantitative","scale":{"domain":[-14,69],"nice":false,"zero":false},"axis":null},"y2":{"field":"oh"}}},
{"data":{"name":"box"},"transform":[{"filter":"datum.p==='E'"}],"mark":{"type":"rule","color":"#3d3d3d","strokeWidth":4},"encoding":{"x":{"field":"g","type":"quantitative","scale":{"domain":[-0.5,3.5],"nice":false,"zero":false},"axis":null},"y":{"field":"ol","type":"quantitative","scale":{"domain":[-14,69],"nice":false,"zero":false},"axis":null},"y2":{"field":"wl"}}},
{"data":{"name":"box"},"transform":[{"filter":"datum.p==='E'"}],"mark":{"type":"rule","color":"#3d3d3d","strokeWidth":1},"encoding":{"x":{"field":"g","type":"quantitative","scale":{"domain":[-0.5,3.5],"nice":false,"zero":false},"axis":null},"y":{"field":"wl","type":"quantitative","scale":{"domain":[-14,69],"nice":false,"zero":false},"axis":null},"y2":{"field":"wh"}}},
{"data":{"name":"box"},"transform":[{"filter":"datum.p==='E'"}],"mark":{"type":"tick","orient":"horizontal","color":"#3d3d3d","size":12,"thickness":1.3},"encoding":{"x":{"field":"g","type":"quantitative","scale":{"domain":[-0.5,3.5],"nice":false,"zero":false},"axis":null},"y":{"field":"wl","type":"quantitative","scale":{"domain":[-14,69],"nice":false,"zero":false},"axis":null}}},
{"data":{"name":"box"},"transform":[{"filter":"datum.p==='E'"}],"mark":{"type":"tick","orient":"horizontal","color":"#3d3d3d","size":12,"thickness":1.3},"encoding":{"x":{"field":"g","type":"quantitative","scale":{"domain":[-0.5,3.5],"nice":false,"zero":false},"axis":null},"y":{"field":"wh","type":"quantitative","scale":{"domain":[-14,69],"nice":false,"zero":false},"axis":null}}},
{"data":{"name":"box"},"transform":[{"filter":"datum.p==='E'"}],"mark":{"type":"bar","orient":"vertical","width":21,"stroke":"#3d3d3d","strokeWidth":1},"encoding":{"x":{"field":"g","type":"quantitative","scale":{"domain":[-0.5,3.5],"nice":false,"zero":false},"axis":{"orient":"bottom","title":null,"labels":false,"grid":false,"ticks":false,"domain":true}},"y":{"field":"q1","type":"quantitative","scale":{"domain":[-14,69],"nice":false,"zero":false},"axis":{"title":"Long axis deformation [%]","values":[0,20,40,60]}},"y2":{"field":"q3"},"color":{"field":"g","type":"nominal","scale":{"domain":[0,1,2,3],"range":["#5470A8","#C8603A","#5C9E52","#C4A43A"]},"legend":{"title":null,"offset":4,"symbolType":"M-2,-0.5H2V0.5H-2Z","symbolSize":30,"symbolStrokeWidth":0,"labelExpr":"['PINCH1ᶠˡ/ᶠˡ dmso control','PINCH1ᶠˡ/ᶠˡ 0.4µM Latrunculin A','PINCH1⁻/⁻ dmso control','PINCH1⁻/⁻ 0.4µM Latrunculin A'][datum.value]"}}}},
{"data":{"name":"box"},"transform":[{"filter":"datum.p==='E'"}],"mark":{"type":"tick","orient":"horizontal","color":"#3d3d3d","size":21,"thickness":1},"encoding":{"x":{"field":"g","type":"quantitative","scale":{"domain":[-0.5,3.5],"nice":false,"zero":false},"axis":null},"y":{"field":"md","type":"quantitative","scale":{"domain":[-14,69],"nice":false,"zero":false},"axis":null}}},
{"data":{"name":"out"},"transform":[{"filter":"datum.p==='E'"}],"mark":{"type":"point","shape":"diamond","filled":true,"size":10,"color":"#3d3d3d","opacity":1},"encoding":{"x":{"field":"g","type":"quantitative","scale":{"domain":[-0.5,3.5],"nice":false,"zero":false},"axis":null},"y":{"field":"v","type":"quantitative","scale":{"domain":[-14,69],"nice":false,"zero":false},"axis":null}}}
]},
{"width":105,"height":129,"title":{"text":"F","dx":-30},"resolve":{"axis":{"x":"independent","y":"independent"}},"layer":[
{"data":{"name":"sig"},"transform":[{"filter":"datum.p==='F'"}],"mark":{"type":"rule","color":"#555555","strokeWidth":0.8},"encoding":{"x":{"field":"a","type":"quantitative","scale":{"domain":[-0.5,3.5],"nice":false,"zero":false},"axis":{"orient":"top","title":"1200mW","labels":false,"grid":false,"domain":false,"ticks":false,"titlePadding":2}},"x2":{"field":"b"},"y":{"field":"y","type":"quantitative","scale":{"domain":[-14,69],"nice":false,"zero":false},"axis":null}}},
{"data":{"name":"sig"},"transform":[{"filter":"datum.p==='F'"}],"mark":{"type":"text","fontSize":5,"baseline":"bottom","dy":-0.5,"color":"#333333"},"encoding":{"x":{"field":"m","type":"quantitative","scale":{"domain":[-0.5,3.5],"nice":false,"zero":false},"axis":null},"y":{"field":"y","type":"quantitative","scale":{"domain":[-14,69],"nice":false,"zero":false},"axis":null},"text":{"field":"s"}}},
{"data":{"name":"box"},"transform":[{"filter":"datum.p==='F'"}],"mark":{"type":"rule","color":"#3d3d3d","strokeWidth":4},"encoding":{"x":{"field":"g","type":"quantitative","scale":{"domain":[-0.5,3.5],"nice":false,"zero":false},"axis":null},"y":{"field":"wh","type":"quantitative","scale":{"domain":[-14,69],"nice":false,"zero":false},"axis":null},"y2":{"field":"oh"}}},
{"data":{"name":"box"},"transform":[{"filter":"datum.p==='F'"}],"mark":{"type":"rule","color":"#3d3d3d","strokeWidth":4},"encoding":{"x":{"field":"g","type":"quantitative","scale":{"domain":[-0.5,3.5],"nice":false,"zero":false},"axis":null},"y":{"field":"ol","type":"quantitative","scale":{"domain":[-14,69],"nice":false,"zero":false},"axis":null},"y2":{"field":"wl"}}},
{"data":{"name":"box"},"transform":[{"filter":"datum.p==='F'"}],"mark":{"type":"rule","color":"#3d3d3d","strokeWidth":1},"encoding":{"x":{"field":"g","type":"quantitative","scale":{"domain":[-0.5,3.5],"nice":false,"zero":false},"axis":null},"y":{"field":"wl","type":"quantitative","scale":{"domain":[-14,69],"nice":false,"zero":false},"axis":null},"y2":{"field":"wh"}}},
{"data":{"name":"box"},"transform":[{"filter":"datum.p==='F'"}],"mark":{"type":"tick","orient":"horizontal","color":"#3d3d3d","size":12,"thickness":1.3},"encoding":{"x":{"field":"g","type":"quantitative","scale":{"domain":[-0.5,3.5],"nice":false,"zero":false},"axis":null},"y":{"field":"wl","type":"quantitative","scale":{"domain":[-14,69],"nice":false,"zero":false},"axis":null}}},
{"data":{"name":"box"},"transform":[{"filter":"datum.p==='F'"}],"mark":{"type":"tick","orient":"horizontal","color":"#3d3d3d","size":12,"thickness":1.3},"encoding":{"x":{"field":"g","type":"quantitative","scale":{"domain":[-0.5,3.5],"nice":false,"zero":false},"axis":null},"y":{"field":"wh","type":"quantitative","scale":{"domain":[-14,69],"nice":false,"zero":false},"axis":null}}},
{"data":{"name":"box"},"transform":[{"filter":"datum.p==='F'"}],"mark":{"type":"bar","orient":"vertical","width":21,"stroke":"#3d3d3d","strokeWidth":1},"encoding":{"x":{"field":"g","type":"quantitative","scale":{"domain":[-0.5,3.5],"nice":false,"zero":false},"axis":{"orient":"bottom","title":null,"labels":false,"grid":false,"ticks":false,"domain":true}},"y":{"field":"q1","type":"quantitative","scale":{"domain":[-14,69],"nice":false,"zero":false},"axis":{"title":"Long axis deformation [%]","values":[0,20,40,60]}},"y2":{"field":"q3"},"color":{"field":"g","type":"nominal","scale":{"domain":[0,1,2,3],"range":["#5470A8","#C8603A","#5C9E52","#C4A43A"]},"legend":{"title":null,"offset":4,"symbolType":"M-2,-0.5H2V0.5H-2Z","symbolSize":30,"symbolStrokeWidth":0,"labelExpr":"['PINCH1ᶠˡ/ᶠˡ dmso control','PINCH1ᶠˡ/ᶠˡ 0.4µM Latrunculin A','PINCH1⁻/⁻ dmso control','PINCH1⁻/⁻ 0.4µM Latrunculin A'][datum.value]"}}}},
{"data":{"name":"box"},"transform":[{"filter":"datum.p==='F'"}],"mark":{"type":"tick","orient":"horizontal","color":"#3d3d3d","size":21,"thickness":1},"encoding":{"x":{"field":"g","type":"quantitative","scale":{"domain":[-0.5,3.5],"nice":false,"zero":false},"axis":null},"y":{"field":"md","type":"quantitative","scale":{"domain":[-14,69],"nice":false,"zero":false},"axis":null}}},
{"data":{"name":"out"},"transform":[{"filter":"datum.p==='F'"}],"mark":{"type":"point","shape":"diamond","filled":true,"size":10,"color":"#3d3d3d","opacity":1},"encoding":{"x":{"field":"g","type":"quantitative","scale":{"domain":[-0.5,3.5],"nice":false,"zero":false},"axis":null},"y":{"field":"v","type":"quantitative","scale":{"domain":[-14,69],"nice":false,"zero":false},"axis":null}}}
]},
{"width":93,"height":129,"title":{"text":"G","dx":-40},"resolve":{"axis":{"x":"independent","y":"independent"}},"layer":[
{"data":{"name":"sig"},"transform":[{"filter":"datum.p==='G'"}],"mark":{"type":"rule","color":"#555555","strokeWidth":0.8},"encoding":{"x":{"field":"a","type":"quantitative","scale":{"domain":[-0.5,3.5],"nice":false,"zero":false},"axis":{"orient":"top","title":"800mW","labels":false,"grid":false,"domain":false,"ticks":false,"titlePadding":2}},"x2":{"field":"b"},"y":{"field":"y","type":"quantitative","scale":{"domain":[-23,69],"nice":false,"zero":false},"axis":null}}},
{"data":{"name":"sig"},"transform":[{"filter":"datum.p==='G'"}],"mark":{"type":"text","fontSize":5,"baseline":"bottom","dy":-0.5,"color":"#333333"},"encoding":{"x":{"field":"m","type":"quantitative","scale":{"domain":[-0.5,3.5],"nice":false,"zero":false},"axis":null},"y":{"field":"y","type":"quantitative","scale":{"domain":[-23,69],"nice":false,"zero":false},"axis":null},"text":{"field":"s"}}},
{"data":{"name":"box"},"transform":[{"filter":"datum.p==='G'"}],"mark":{"type":"rule","color":"#3d3d3d","strokeWidth":4},"encoding":{"x":{"field":"g","type":"quantitative","scale":{"domain":[-0.5,3.5],"nice":false,"zero":false},"axis":null},"y":{"field":"wh","type":"quantitative","scale":{"domain":[-23,69],"nice":false,"zero":false},"axis":null},"y2":{"field":"oh"}}},
{"data":{"name":"box"},"transform":[{"filter":"datum.p==='G'"}],"mark":{"type":"rule","color":"#3d3d3d","strokeWidth":4},"encoding":{"x":{"field":"g","type":"quantitative","scale":{"domain":[-0.5,3.5],"nice":false,"zero":false},"axis":null},"y":{"field":"ol","type":"quantitative","scale":{"domain":[-23,69],"nice":false,"zero":false},"axis":null},"y2":{"field":"wl"}}},
{"data":{"name":"box"},"transform":[{"filter":"datum.p==='G'"}],"mark":{"type":"rule","color":"#3d3d3d","strokeWidth":1},"encoding":{"x":{"field":"g","type":"quantitative","scale":{"domain":[-0.5,3.5],"nice":false,"zero":false},"axis":null},"y":{"field":"wl","type":"quantitative","scale":{"domain":[-23,69],"nice":false,"zero":false},"axis":null},"y2":{"field":"wh"}}},
{"data":{"name":"box"},"transform":[{"filter":"datum.p==='G'"}],"mark":{"type":"tick","orient":"horizontal","color":"#3d3d3d","size":12,"thickness":1.3},"encoding":{"x":{"field":"g","type":"quantitative","scale":{"domain":[-0.5,3.5],"nice":false,"zero":false},"axis":null},"y":{"field":"wl","type":"quantitative","scale":{"domain":[-23,69],"nice":false,"zero":false},"axis":null}}},
{"data":{"name":"box"},"transform":[{"filter":"datum.p==='G'"}],"mark":{"type":"tick","orient":"horizontal","color":"#3d3d3d","size":12,"thickness":1.3},"encoding":{"x":{"field":"g","type":"quantitative","scale":{"domain":[-0.5,3.5],"nice":false,"zero":false},"axis":null},"y":{"field":"wh","type":"quantitative","scale":{"domain":[-23,69],"nice":false,"zero":false},"axis":null}}},
{"data":{"name":"box"},"transform":[{"filter":"datum.p==='G'"}],"mark":{"type":"bar","orient":"vertical","width":19,"stroke":"#3d3d3d","strokeWidth":1},"encoding":{"x":{"field":"g","type":"quantitative","scale":{"domain":[-0.5,3.5],"nice":false,"zero":false},"axis":{"orient":"bottom","title":null,"labels":false,"grid":false,"ticks":false,"domain":true}},"y":{"field":"q1","type":"quantitative","scale":{"domain":[-23,69],"nice":false,"zero":false},"axis":{"title":"Short axis deformation [%]","values":[-20,0,20,40,60]}},"y2":{"field":"q3"},"color":{"field":"g","type":"nominal","scale":{"domain":[0,1,2,3],"range":["#5470A8","#C8603A","#5C9E52","#C4A43A"]},"legend":{"title":null,"offset":4,"symbolType":"M-2,-0.5H2V0.5H-2Z","symbolSize":30,"symbolStrokeWidth":0,"labelExpr":"['PINCH1ᶠˡ/ᶠˡ dmso control','PINCH1ᶠˡ/ᶠˡ 0.4µM Latrunculin A','PINCH1⁻/⁻ dmso control','PINCH1⁻/⁻ 0.4µM Latrunculin A'][datum.value]"}}}},
{"data":{"name":"box"},"transform":[{"filter":"datum.p==='G'"}],"mark":{"type":"tick","orient":"horizontal","color":"#3d3d3d","size":19,"thickness":1},"encoding":{"x":{"field":"g","type":"quantitative","scale":{"domain":[-0.5,3.5],"nice":false,"zero":false},"axis":null},"y":{"field":"md","type":"quantitative","scale":{"domain":[-23,69],"nice":false,"zero":false},"axis":null}}},
{"data":{"name":"out"},"transform":[{"filter":"datum.p==='G'"}],"mark":{"type":"point","shape":"diamond","filled":true,"size":10,"color":"#3d3d3d","opacity":1},"encoding":{"x":{"field":"g","type":"quantitative","scale":{"domain":[-0.5,3.5],"nice":false,"zero":false},"axis":null},"y":{"field":"v","type":"quantitative","scale":{"domain":[-23,69],"nice":false,"zero":false},"axis":null}}}
]},
{"width":102,"height":129,"title":{"text":"H","dx":-38},"resolve":{"axis":{"x":"independent","y":"independent"}},"layer":[
{"data":{"name":"sig"},"transform":[{"filter":"datum.p==='H'"}],"mark":{"type":"rule","color":"#555555","strokeWidth":0.8},"encoding":{"x":{"field":"a","type":"quantitative","scale":{"domain":[-0.5,3.5],"nice":false,"zero":false},"axis":{"orient":"top","title":"1200mW","labels":false,"grid":false,"domain":false,"ticks":false,"titlePadding":2}},"x2":{"field":"b"},"y":{"field":"y","type":"quantitative","scale":{"domain":[-23,69],"nice":false,"zero":false},"axis":null}}},
{"data":{"name":"sig"},"transform":[{"filter":"datum.p==='H'"}],"mark":{"type":"text","fontSize":5,"baseline":"bottom","dy":-0.5,"color":"#333333"},"encoding":{"x":{"field":"m","type":"quantitative","scale":{"domain":[-0.5,3.5],"nice":false,"zero":false},"axis":null},"y":{"field":"y","type":"quantitative","scale":{"domain":[-23,69],"nice":false,"zero":false},"axis":null},"text":{"field":"s"}}},
{"data":{"name":"box"},"transform":[{"filter":"datum.p==='H'"}],"mark":{"type":"rule","color":"#3d3d3d","strokeWidth":4},"encoding":{"x":{"field":"g","type":"quantitative","scale":{"domain":[-0.5,3.5],"nice":false,"zero":false},"axis":null},"y":{"field":"wh","type":"quantitative","scale":{"domain":[-23,69],"nice":false,"zero":false},"axis":null},"y2":{"field":"oh"}}},
{"data":{"name":"box"},"transform":[{"filter":"datum.p==='H'"}],"mark":{"type":"rule","color":"#3d3d3d","strokeWidth":4},"encoding":{"x":{"field":"g","type":"quantitative","scale":{"domain":[-0.5,3.5],"nice":false,"zero":false},"axis":null},"y":{"field":"ol","type":"quantitative","scale":{"domain":[-23,69],"nice":false,"zero":false},"axis":null},"y2":{"field":"wl"}}},
{"data":{"name":"box"},"transform":[{"filter":"datum.p==='H'"}],"mark":{"type":"rule","color":"#3d3d3d","strokeWidth":1},"encoding":{"x":{"field":"g","type":"quantitative","scale":{"domain":[-0.5,3.5],"nice":false,"zero":false},"axis":null},"y":{"field":"wl","type":"quantitative","scale":{"domain":[-23,69],"nice":false,"zero":false},"axis":null},"y2":{"field":"wh"}}},
{"data":{"name":"box"},"transform":[{"filter":"datum.p==='H'"}],"mark":{"type":"tick","orient":"horizontal","color":"#3d3d3d","size":12,"thickness":1.3},"encoding":{"x":{"field":"g","type":"quantitative","scale":{"domain":[-0.5,3.5],"nice":false,"zero":false},"axis":null},"y":{"field":"wl","type":"quantitative","scale":{"domain":[-23,69],"nice":false,"zero":false},"axis":null}}},
{"data":{"name":"box"},"transform":[{"filter":"datum.p==='H'"}],"mark":{"type":"tick","orient":"horizontal","color":"#3d3d3d","size":12,"thickness":1.3},"encoding":{"x":{"field":"g","type":"quantitative","scale":{"domain":[-0.5,3.5],"nice":false,"zero":false},"axis":null},"y":{"field":"wh","type":"quantitative","scale":{"domain":[-23,69],"nice":false,"zero":false},"axis":null}}},
{"data":{"name":"box"},"transform":[{"filter":"datum.p==='H'"}],"mark":{"type":"bar","orient":"vertical","width":20,"stroke":"#3d3d3d","strokeWidth":1},"encoding":{"x":{"field":"g","type":"quantitative","scale":{"domain":[-0.5,3.5],"nice":false,"zero":false},"axis":{"orient":"bottom","title":null,"labels":false,"grid":false,"ticks":false,"domain":true}},"y":{"field":"q1","type":"quantitative","scale":{"domain":[-23,69],"nice":false,"zero":false},"axis":{"title":"Short axis deformation [%]","values":[-20,0,20,40,60]}},"y2":{"field":"q3"},"color":{"field":"g","type":"nominal","scale":{"domain":[0,1,2,3],"range":["#5470A8","#C8603A","#5C9E52","#C4A43A"]},"legend":{"title":null,"offset":4,"symbolType":"M-2,-0.5H2V0.5H-2Z","symbolSize":30,"symbolStrokeWidth":0,"labelExpr":"['PINCH1ᶠˡ/ᶠˡ dmso control','PINCH1ᶠˡ/ᶠˡ 0.4µM Latrunculin A','PINCH1⁻/⁻ dmso control','PINCH1⁻/⁻ 0.4µM Latrunculin A'][datum.value]"}}}},
{"data":{"name":"box"},"transform":[{"filter":"datum.p==='H'"}],"mark":{"type":"tick","orient":"horizontal","color":"#3d3d3d","size":20,"thickness":1},"encoding":{"x":{"field":"g","type":"quantitative","scale":{"domain":[-0.5,3.5],"nice":false,"zero":false},"axis":null},"y":{"field":"md","type":"quantitative","scale":{"domain":[-23,69],"nice":false,"zero":false},"axis":null}}},
{"data":{"name":"out"},"transform":[{"filter":"datum.p==='H'"}],"mark":{"type":"point","shape":"diamond","filled":true,"size":10,"color":"#3d3d3d","opacity":1},"encoding":{"x":{"field":"g","type":"quantitative","scale":{"domain":[-0.5,3.5],"nice":false,"zero":false},"axis":null},"y":{"field":"v","type":"quantitative","scale":{"domain":[-23,69],"nice":false,"zero":false},"axis":null}}}
]}
],"bounds":"flush","spacing":83,"resolve":{"scale":{"color":"independent"}}},
{"hconcat": [
{"width":119,"height":130,"title":{"text":"I","dx":-37},"resolve":{"axis":{"x":"independent"}},"layer":[
{"data":{"name":"shade"},"mark":{"type":"rect","fill":"#000000","fillOpacity":0.06},"encoding":{"x":{"field":"a","type":"quantitative","scale":{"domain":[-0.25,5.25],"nice":false,"zero":false},"axis":{"orient":"top","title":"800mW","labels":false,"grid":false,"domain":false,"ticks":false,"titlePadding":2}},"x2":{"field":"b"}}},
{"data":{"name":"lines"},"transform":[{"filter":"datum.p==='I'"}],"mark":{"type":"line","strokeWidth":1.3},"encoding":{"x":{"field":"t","type":"quantitative","scale":{"domain":[-0.25,5.25],"nice":false,"zero":false},"axis":{"title":"Elapsed time [s]","values":[0,1,2,3,4,5]}},"y":{"field":"v","type":"quantitative","scale":{"domain":[-10,5],"nice":false,"zero":false},"axis":{"title":"Long axis relaxation [%]","values":[-10,-7.5,-5,-2.5,0,2.5,5],"format":".1f"}},"color":{"field":"g","type":"nominal","scale":{"domain":[0,1,2,3],"range":["#4C72B0","#D65F35","#55A150","#BFA233"]},"legend":{"title":null,"symbolType":"M-2,0H2","symbolSize":36,"symbolStrokeWidth":1.3,"labelExpr":"['PINCH1ᶠˡ/ᶠˡ dmso control','PINCH1ᶠˡ/ᶠˡ 0.4µM Latrunculin A','PINCH1⁻/⁻ dmso control','PINCH1⁻/⁻ 0.4µM Latrunculin A'][datum.value]"}}}}
]},
{"width":123,"height":130,"title":{"text":"J","dx":-38},"resolve":{"axis":{"x":"independent"}},"layer":[
{"data":{"name":"shade"},"mark":{"type":"rect","fill":"#000000","fillOpacity":0.06},"encoding":{"x":{"field":"a","type":"quantitative","scale":{"domain":[-0.25,5.25],"nice":false,"zero":false},"axis":{"orient":"top","title":"1200mW","labels":false,"grid":false,"domain":false,"ticks":false,"titlePadding":2}},"x2":{"field":"b"}}},
{"data":{"name":"lines"},"transform":[{"filter":"datum.p==='J'"}],"mark":{"type":"line","strokeWidth":1.3},"encoding":{"x":{"field":"t","type":"quantitative","scale":{"domain":[-0.25,5.25],"nice":false,"zero":false},"axis":{"title":"Elapsed time [s]","values":[0,1,2,3,4,5]}},"y":{"field":"v","type":"quantitative","scale":{"domain":[-10,5],"nice":false,"zero":false},"axis":{"title":"Long axis relaxation [%]","values":[-10,-7.5,-5,-2.5,0,2.5,5],"format":".1f"}},"color":{"field":"g","type":"nominal","scale":{"domain":[0,1,2,3],"range":["#4C72B0","#D65F35","#55A150","#BFA233"]},"legend":{"title":null,"symbolType":"M-2,0H2","symbolSize":36,"symbolStrokeWidth":1.3,"labelExpr":"['PINCH1ᶠˡ/ᶠˡ dmso control','PINCH1ᶠˡ/ᶠˡ 0.4µM Latrunculin A','PINCH1⁻/⁻ dmso control','PINCH1⁻/⁻ 0.4µM Latrunculin A'][datum.value]"}}}}
]},
{"width":110,"height":130,"title":{"text":"K","dx":-38},"resolve":{"axis":{"x":"independent"}},"layer":[
{"data":{"name":"shade"},"mark":{"type":"rect","fill":"#000000","fillOpacity":0.06},"encoding":{"x":{"field":"a","type":"quantitative","scale":{"domain":[-0.25,5.25],"nice":false,"zero":false},"axis":{"orient":"top","title":"800mW","labels":false,"grid":false,"domain":false,"ticks":false,"titlePadding":2}},"x2":{"field":"b"}}},
{"data":{"name":"lines"},"transform":[{"filter":"datum.p==='K'"}],"mark":{"type":"line","strokeWidth":1.3},"encoding":{"x":{"field":"t","type":"quantitative","scale":{"domain":[-0.25,5.25],"nice":false,"zero":false},"axis":{"title":"Elapsed time [s]","values":[0,1,2,3,4,5]}},"y":{"field":"v","type":"quantitative","scale":{"domain":[-1,5],"nice":false,"zero":false},"axis":{"title":"Short axis relaxation [%]","values":[-1,0,1,2,3,4,5]}},"color":{"field":"g","type":"nominal","scale":{"domain":[0,1,2,3],"range":["#4C72B0","#D65F35","#55A150","#BFA233"]},"legend":{"title":null,"symbolType":"M-2,0H2","symbolSize":36,"symbolStrokeWidth":1.3,"labelExpr":"['PINCH1ᶠˡ/ᶠˡ dmso control','PINCH1ᶠˡ/ᶠˡ 0.4µM Latrunculin A','PINCH1⁻/⁻ dmso control','PINCH1⁻/⁻ 0.4µM Latrunculin A'][datum.value]"}}}}
]},
{"width":110,"height":130,"title":{"text":"L","dx":-39},"resolve":{"axis":{"x":"independent","y":"independent"}},"layer":[
{"data":{"name":"shade"},"mark":{"type":"rect","fill":"#000000","fillOpacity":0.06},"encoding":{"x":{"field":"a","type":"quantitative","scale":{"domain":[-0.25,5.25],"nice":false,"zero":false},"axis":{"orient":"top","title":"1200mW","labels":false,"grid":false,"domain":false,"ticks":false,"titlePadding":2}},"x2":{"field":"b"}}},
{"data":{"name":"lines"},"transform":[{"filter":"datum.p==='L'"}],"mark":{"type":"line","strokeWidth":1.3},"encoding":{"x":{"field":"t","type":"quantitative","scale":{"domain":[-0.25,5.25],"nice":false,"zero":false},"axis":{"title":"Elapsed time [s]","values":[0,1,2,3,4,5]}},"y":{"field":"v","type":"quantitative","scale":{"domain":[-1,5],"nice":false,"zero":false},"axis":{"title":"Short axis relaxation [%]","values":[-1,0,1,2,3,4,5]}},"color":{"field":"g","type":"nominal","scale":{"domain":[0,1,2,3],"range":["#4C72B0","#D65F35","#55A150","#BFA233"]},"legend":{"title":null,"symbolType":"M-2,0H2","symbolSize":36,"symbolStrokeWidth":1.3,"labelExpr":"['PINCH1ᶠˡ/ᶠˡ dmso control','PINCH1ᶠˡ/ᶠˡ 0.4µM Latrunculin A','PINCH1⁻/⁻ dmso control','PINCH1⁻/⁻ 0.4µM Latrunculin A'][datum.value]"}}}},
{"data":{"name":"lines"},"transform":[{"filter":"datum.p==='L'"}],"mark":{"type":"errorband","opacity":0.25},"encoding":{"x":{"field":"t","type":"quantitative","scale":{"domain":[-0.25,5.25],"nice":false,"zero":false},"axis":null},"y":{"field":"v","type":"quantitative","scale":{"domain":[-1,5],"nice":false,"zero":false},"axis":null},"yError":{"field":"e"},"color":{"field":"g","type":"nominal","scale":{"domain":[0,1,2,3],"range":["#4C72B0","#D65F35","#55A150","#BFA233"]},"legend":{"title":null,"symbolType":"M-2,0H2","symbolSize":36,"symbolStrokeWidth":1.3,"labelExpr":"['PINCH1ᶠˡ/ᶠˡ dmso control','PINCH1ᶠˡ/ᶠˡ 0.4µM Latrunculin A','PINCH1⁻/⁻ dmso control','PINCH1⁻/⁻ 0.4µM Latrunculin A'][datum.value]"}}}}
]}
],"bounds":"flush","spacing":67,"resolve":{"scale":{"color":"independent"}}},
{"hconcat": [
{"width":116,"height":129,"title":{"text":"M","dx":-37},"resolve":{"axis":{"x":"independent","y":"independent"}},"layer":[
{"data":{"name":"sig"},"transform":[{"filter":"datum.p==='M'"}],"mark":{"type":"rule","color":"#555555","strokeWidth":0.8},"encoding":{"x":{"field":"a","type":"quantitative","scale":{"domain":[-0.5,3.5],"nice":false,"zero":false},"axis":{"orient":"top","title":"800mW","labels":false,"grid":false,"domain":false,"ticks":false,"titlePadding":2}},"x2":{"field":"b"},"y":{"field":"y","type":"quantitative","scale":{"domain":[-0.9,28.8],"nice":false,"zero":false},"axis":null}}},
{"data":{"name":"sig"},"transform":[{"filter":"datum.p==='M'"}],"mark":{"type":"text","fontSize":5,"baseline":"bottom","dy":-0.5,"color":"#333333"},"encoding":{"x":{"field":"m","type":"quantitative","scale":{"domain":[-0.5,3.5],"nice":false,"zero":false},"axis":null},"y":{"field":"y","type":"quantitative","scale":{"domain":[-0.9,28.8],"nice":false,"zero":false},"axis":null},"text":{"field":"s"}}},
{"data":{"name":"box"},"transform":[{"filter":"datum.p==='M'"}],"mark":{"type":"rule","color":"#3d3d3d","strokeWidth":4},"encoding":{"x":{"field":"g","type":"quantitative","scale":{"domain":[-0.5,3.5],"nice":false,"zero":false},"axis":null},"y":{"field":"wh","type":"quantitative","scale":{"domain":[-0.9,28.8],"nice":false,"zero":false},"axis":null},"y2":{"field":"oh"}}},
{"data":{"name":"box"},"transform":[{"filter":"datum.p==='M'"}],"mark":{"type":"rule","color":"#3d3d3d","strokeWidth":1},"encoding":{"x":{"field":"g","type":"quantitative","scale":{"domain":[-0.5,3.5],"nice":false,"zero":false},"axis":null},"y":{"field":"wl","type":"quantitative","scale":{"domain":[-0.9,28.8],"nice":false,"zero":false},"axis":null},"y2":{"field":"wh"}}},
{"data":{"name":"box"},"transform":[{"filter":"datum.p==='M'"}],"mark":{"type":"tick","orient":"horizontal","color":"#3d3d3d","size":13,"thickness":1.3},"encoding":{"x":{"field":"g","type":"quantitative","scale":{"domain":[-0.5,3.5],"nice":false,"zero":false},"axis":null},"y":{"field":"wl","type":"quantitative","scale":{"domain":[-0.9,28.8],"nice":false,"zero":false},"axis":null}}},
{"data":{"name":"box"},"transform":[{"filter":"datum.p==='M'"}],"mark":{"type":"tick","orient":"horizontal","color":"#3d3d3d","size":13,"thickness":1.3},"encoding":{"x":{"field":"g","type":"quantitative","scale":{"domain":[-0.5,3.5],"nice":false,"zero":false},"axis":null},"y":{"field":"wh","type":"quantitative","scale":{"domain":[-0.9,28.8],"nice":false,"zero":false},"axis":null}}},
{"data":{"name":"box"},"transform":[{"filter":"datum.p==='M'"}],"mark":{"type":"bar","orient":"vertical","width":23,"stroke":"#3d3d3d","strokeWidth":1},"encoding":{"x":{"field":"g","type":"quantitative","scale":{"domain":[-0.5,3.5],"nice":false,"zero":false},"axis":{"orient":"bottom","title":null,"labels":false,"grid":false,"ticks":false,"domain":true}},"y":{"field":"q1","type":"quantitative","scale":{"domain":[-0.9,28.8],"nice":false,"zero":false},"axis":{"title":"Long axis relaxation relative [%]","values":[0,5,10,15,20,25]}},"y2":{"field":"q3"},"color":{"field":"g","type":"nominal","scale":{"domain":[0,1,2,3],"range":["#5470A8","#C8603A","#5C9E52","#C4A43A"]},"legend":{"title":null,"offset":4,"symbolType":"M-2,-0.5H2V0.5H-2Z","symbolSize":30,"symbolStrokeWidth":0,"labelExpr":"['PINCH1ᶠˡ/ᶠˡ dmso control','PINCH1ᶠˡ/ᶠˡ 0.4µM Latrunculin A','PINCH1⁻/⁻ dmso control','PINCH1⁻/⁻ 0.4µM Latrunculin A'][datum.value]"}}}},
{"data":{"name":"box"},"transform":[{"filter":"datum.p==='M'"}],"mark":{"type":"tick","orient":"horizontal","color":"#3d3d3d","size":23,"thickness":1},"encoding":{"x":{"field":"g","type":"quantitative","scale":{"domain":[-0.5,3.5],"nice":false,"zero":false},"axis":null},"y":{"field":"md","type":"quantitative","scale":{"domain":[-0.9,28.8],"nice":false,"zero":false},"axis":null}}},
{"data":{"name":"out"},"transform":[{"filter":"datum.p==='M'"}],"mark":{"type":"point","shape":"diamond","filled":true,"size":10,"color":"#3d3d3d","opacity":1},"encoding":{"x":{"field":"g","type":"quantitative","scale":{"domain":[-0.5,3.5],"nice":false,"zero":false},"axis":null},"y":{"field":"v","type":"quantitative","scale":{"domain":[-0.9,28.8],"nice":false,"zero":false},"axis":null}}}
]},
{"width":114,"height":129,"title":{"text":"N","dx":-38},"resolve":{"axis":{"x":"independent","y":"independent"}},"layer":[
{"data":{"name":"sig"},"transform":[{"filter":"datum.p==='N'"}],"mark":{"type":"rule","color":"#555555","strokeWidth":0.8},"encoding":{"x":{"field":"a","type":"quantitative","scale":{"domain":[-0.5,3.5],"nice":false,"zero":false},"axis":{"orient":"top","title":"1200mW","labels":false,"grid":false,"domain":false,"ticks":false,"titlePadding":2}},"x2":{"field":"b"},"y":{"field":"y","type":"quantitative","scale":{"domain":[-0.9,28.8],"nice":false,"zero":false},"axis":null}}},
{"data":{"name":"sig"},"transform":[{"filter":"datum.p==='N'"}],"mark":{"type":"text","fontSize":5,"baseline":"bottom","dy":-0.5,"color":"#333333"},"encoding":{"x":{"field":"m","type":"quantitative","scale":{"domain":[-0.5,3.5],"nice":false,"zero":false},"axis":null},"y":{"field":"y","type":"quantitative","scale":{"domain":[-0.9,28.8],"nice":false,"zero":false},"axis":null},"text":{"field":"s"}}},
{"data":{"name":"box"},"transform":[{"filter":"datum.p==='N'"}],"mark":{"type":"rule","color":"#3d3d3d","strokeWidth":4},"encoding":{"x":{"field":"g","type":"quantitative","scale":{"domain":[-0.5,3.5],"nice":false,"zero":false},"axis":null},"y":{"field":"wh","type":"quantitative","scale":{"domain":[-0.9,28.8],"nice":false,"zero":false},"axis":null},"y2":{"field":"oh"}}},
{"data":{"name":"box"},"transform":[{"filter":"datum.p==='N'"}],"mark":{"type":"rule","color":"#3d3d3d","strokeWidth":1},"encoding":{"x":{"field":"g","type":"quantitative","scale":{"domain":[-0.5,3.5],"nice":false,"zero":false},"axis":null},"y":{"field":"wl","type":"quantitative","scale":{"domain":[-0.9,28.8],"nice":false,"zero":false},"axis":null},"y2":{"field":"wh"}}},
{"data":{"name":"box"},"transform":[{"filter":"datum.p==='N'"}],"mark":{"type":"tick","orient":"horizontal","color":"#3d3d3d","size":13,"thickness":1.3},"encoding":{"x":{"field":"g","type":"quantitative","scale":{"domain":[-0.5,3.5],"nice":false,"zero":false},"axis":null},"y":{"field":"wl","type":"quantitative","scale":{"domain":[-0.9,28.8],"nice":false,"zero":false},"axis":null}}},
{"data":{"name":"box"},"transform":[{"filter":"datum.p==='N'"}],"mark":{"type":"tick","orient":"horizontal","color":"#3d3d3d","size":13,"thickness":1.3},"encoding":{"x":{"field":"g","type":"quantitative","scale":{"domain":[-0.5,3.5],"nice":false,"zero":false},"axis":null},"y":{"field":"wh","type":"quantitative","scale":{"domain":[-0.9,28.8],"nice":false,"zero":false},"axis":null}}},
{"data":{"name":"box"},"transform":[{"filter":"datum.p==='N'"}],"mark":{"type":"bar","orient":"vertical","width":23,"stroke":"#3d3d3d","strokeWidth":1},"encoding":{"x":{"field":"g","type":"quantitative","scale":{"domain":[-0.5,3.5],"nice":false,"zero":false},"axis":{"orient":"bottom","title":null,"labels":false,"grid":false,"ticks":false,"domain":true}},"y":{"field":"q1","type":"quantitative","scale":{"domain":[-0.9,28.8],"nice":false,"zero":false},"axis":{"title":"Long axis relaxation relative [%]","values":[0,5,10,15,20,25]}},"y2":{"field":"q3"},"color":{"field":"g","type":"nominal","scale":{"domain":[0,1,2,3],"range":["#5470A8","#C8603A","#5C9E52","#C4A43A"]},"legend":{"title":null,"offset":4,"symbolType":"M-2,-0.5H2V0.5H-2Z","symbolSize":30,"symbolStrokeWidth":0,"labelExpr":"['PINCH1ᶠˡ/ᶠˡ dmso control','PINCH1ᶠˡ/ᶠˡ 0.4µM Latrunculin A','PINCH1⁻/⁻ dmso control','PINCH1⁻/⁻ 0.4µM Latrunculin A'][datum.value]"}}}},
{"data":{"name":"box"},"transform":[{"filter":"datum.p==='N'"}],"mark":{"type":"tick","orient":"horizontal","color":"#3d3d3d","size":23,"thickness":1},"encoding":{"x":{"field":"g","type":"quantitative","scale":{"domain":[-0.5,3.5],"nice":false,"zero":false},"axis":null},"y":{"field":"md","type":"quantitative","scale":{"domain":[-0.9,28.8],"nice":false,"zero":false},"axis":null}}},
{"data":{"name":"out"},"transform":[{"filter":"datum.p==='N'"}],"mark":{"type":"point","shape":"diamond","filled":true,"size":10,"color":"#3d3d3d","opacity":1},"encoding":{"x":{"field":"g","type":"quantitative","scale":{"domain":[-0.5,3.5],"nice":false,"zero":false},"axis":null},"y":{"field":"v","type":"quantitative","scale":{"domain":[-0.9,28.8],"nice":false,"zero":false},"axis":null}}}
]},
{"width":102,"height":129,"title":{"text":"O","dx":-43},"resolve":{"axis":{"x":"independent","y":"independent"}},"layer":[
{"data":{"name":"sig"},"transform":[{"filter":"datum.p==='O'"}],"mark":{"type":"rule","color":"#555555","strokeWidth":0.8},"encoding":{"x":{"field":"a","type":"quantitative","scale":{"domain":[-0.5,3.5],"nice":false,"zero":false},"axis":{"orient":"top","title":"800mW","labels":false,"grid":false,"domain":false,"ticks":false,"titlePadding":2}},"x2":{"field":"b"},"y":{"field":"y","type":"quantitative","scale":{"domain":[-0.9,28.8],"nice":false,"zero":false},"axis":null}}},
{"data":{"name":"sig"},"transform":[{"filter":"datum.p==='O'"}],"mark":{"type":"text","fontSize":5,"baseline":"bottom","dy":-0.5,"color":"#333333"},"encoding":{"x":{"field":"m","type":"quantitative","scale":{"domain":[-0.5,3.5],"nice":false,"zero":false},"axis":null},"y":{"field":"y","type":"quantitative","scale":{"domain":[-0.9,28.8],"nice":false,"zero":false},"axis":null},"text":{"field":"s"}}},
{"data":{"name":"box"},"transform":[{"filter":"datum.p==='O'"}],"mark":{"type":"rule","color":"#3d3d3d","strokeWidth":4},"encoding":{"x":{"field":"g","type":"quantitative","scale":{"domain":[-0.5,3.5],"nice":false,"zero":false},"axis":null},"y":{"field":"wh","type":"quantitative","scale":{"domain":[-0.9,28.8],"nice":false,"zero":false},"axis":null},"y2":{"field":"oh"}}},
{"data":{"name":"box"},"transform":[{"filter":"datum.p==='O'"}],"mark":{"type":"rule","color":"#3d3d3d","strokeWidth":1},"encoding":{"x":{"field":"g","type":"quantitative","scale":{"domain":[-0.5,3.5],"nice":false,"zero":false},"axis":null},"y":{"field":"wl","type":"quantitative","scale":{"domain":[-0.9,28.8],"nice":false,"zero":false},"axis":null},"y2":{"field":"wh"}}},
{"data":{"name":"box"},"transform":[{"filter":"datum.p==='O'"}],"mark":{"type":"tick","orient":"horizontal","color":"#3d3d3d","size":12,"thickness":1.3},"encoding":{"x":{"field":"g","type":"quantitative","scale":{"domain":[-0.5,3.5],"nice":false,"zero":false},"axis":null},"y":{"field":"wl","type":"quantitative","scale":{"domain":[-0.9,28.8],"nice":false,"zero":false},"axis":null}}},
{"data":{"name":"box"},"transform":[{"filter":"datum.p==='O'"}],"mark":{"type":"tick","orient":"horizontal","color":"#3d3d3d","size":12,"thickness":1.3},"encoding":{"x":{"field":"g","type":"quantitative","scale":{"domain":[-0.5,3.5],"nice":false,"zero":false},"axis":null},"y":{"field":"wh","type":"quantitative","scale":{"domain":[-0.9,28.8],"nice":false,"zero":false},"axis":null}}},
{"data":{"name":"box"},"transform":[{"filter":"datum.p==='O'"}],"mark":{"type":"bar","orient":"vertical","width":20,"stroke":"#3d3d3d","strokeWidth":1},"encoding":{"x":{"field":"g","type":"quantitative","scale":{"domain":[-0.5,3.5],"nice":false,"zero":false},"axis":{"orient":"bottom","title":null,"labels":false,"grid":false,"ticks":false,"domain":true}},"y":{"field":"q1","type":"quantitative","scale":{"domain":[-0.9,28.8],"nice":false,"zero":false},"axis":{"title":"Short axis relaxation relative [%]","values":[0,5,10,15,20,25]}},"y2":{"field":"q3"},"color":{"field":"g","type":"nominal","scale":{"domain":[0,1,2,3],"range":["#5470A8","#C8603A","#5C9E52","#C4A43A"]},"legend":{"title":null,"offset":4,"symbolType":"M-2,-0.5H2V0.5H-2Z","symbolSize":30,"symbolStrokeWidth":0,"labelExpr":"['PINCH1ᶠˡ/ᶠˡ dmso control','PINCH1ᶠˡ/ᶠˡ 0.4µM Latrunculin A','PINCH1⁻/⁻ dmso control','PINCH1⁻/⁻ 0.4µM Latrunculin A'][datum.value]"}}}},
{"data":{"name":"box"},"transform":[{"filter":"datum.p==='O'"}],"mark":{"type":"tick","orient":"horizontal","color":"#3d3d3d","size":20,"thickness":1},"encoding":{"x":{"field":"g","type":"quantitative","scale":{"domain":[-0.5,3.5],"nice":false,"zero":false},"axis":null},"y":{"field":"md","type":"quantitative","scale":{"domain":[-0.9,28.8],"nice":false,"zero":false},"axis":null}}},
{"data":{"name":"out"},"transform":[{"filter":"datum.p==='O'"}],"mark":{"type":"point","shape":"diamond","filled":true,"size":10,"color":"#3d3d3d","opacity":1},"encoding":{"x":{"field":"g","type":"quantitative","scale":{"domain":[-0.5,3.5],"nice":false,"zero":false},"axis":null},"y":{"field":"v","type":"quantitative","scale":{"domain":[-0.9,28.8],"nice":false,"zero":false},"axis":null}}}
]},
{"width":105,"height":129,"title":{"text":"P","dx":-40},"resolve":{"axis":{"x":"independent","y":"independent"}},"layer":[
{"data":{"name":"sig"},"transform":[{"filter":"datum.p==='P'"}],"mark":{"type":"rule","color":"#555555","strokeWidth":0.8},"encoding":{"x":{"field":"a","type":"quantitative","scale":{"domain":[-0.5,3.5],"nice":false,"zero":false},"axis":{"orient":"top","title":"1200mW","labels":false,"grid":false,"domain":false,"ticks":false,"titlePadding":2}},"x2":{"field":"b"},"y":{"field":"y","type":"quantitative","scale":{"domain":[-0.9,28.8],"nice":false,"zero":false},"axis":null}}},
{"data":{"name":"sig"},"transform":[{"filter":"datum.p==='P'"}],"mark":{"type":"text","fontSize":5,"baseline":"bottom","dy":-0.5,"color":"#333333"},"encoding":{"x":{"field":"m","type":"quantitative","scale":{"domain":[-0.5,3.5],"nice":false,"zero":false},"axis":null},"y":{"field":"y","type":"quantitative","scale":{"domain":[-0.9,28.8],"nice":false,"zero":false},"axis":null},"text":{"field":"s"}}},
{"data":{"name":"box"},"transform":[{"filter":"datum.p==='P'"}],"mark":{"type":"rule","color":"#3d3d3d","strokeWidth":4},"encoding":{"x":{"field":"g","type":"quantitative","scale":{"domain":[-0.5,3.5],"nice":false,"zero":false},"axis":null},"y":{"field":"wh","type":"quantitative","scale":{"domain":[-0.9,28.8],"nice":false,"zero":false},"axis":null},"y2":{"field":"oh"}}},
{"data":{"name":"box"},"transform":[{"filter":"datum.p==='P'"}],"mark":{"type":"rule","color":"#3d3d3d","strokeWidth":1},"encoding":{"x":{"field":"g","type":"quantitative","scale":{"domain":[-0.5,3.5],"nice":false,"zero":false},"axis":null},"y":{"field":"wl","type":"quantitative","scale":{"domain":[-0.9,28.8],"nice":false,"zero":false},"axis":null},"y2":{"field":"wh"}}},
{"data":{"name":"box"},"transform":[{"filter":"datum.p==='P'"}],"mark":{"type":"tick","orient":"horizontal","color":"#3d3d3d","size":12,"thickness":1.3},"encoding":{"x":{"field":"g","type":"quantitative","scale":{"domain":[-0.5,3.5],"nice":false,"zero":false},"axis":null},"y":{"field":"wl","type":"quantitative","scale":{"domain":[-0.9,28.8],"nice":false,"zero":false},"axis":null}}},
{"data":{"name":"box"},"transform":[{"filter":"datum.p==='P'"}],"mark":{"type":"tick","orient":"horizontal","color":"#3d3d3d","size":12,"thickness":1.3},"encoding":{"x":{"field":"g","type":"quantitative","scale":{"domain":[-0.5,3.5],"nice":false,"zero":false},"axis":null},"y":{"field":"wh","type":"quantitative","scale":{"domain":[-0.9,28.8],"nice":false,"zero":false},"axis":null}}},
{"data":{"name":"box"},"transform":[{"filter":"datum.p==='P'"}],"mark":{"type":"bar","orient":"vertical","width":21,"stroke":"#3d3d3d","strokeWidth":1},"encoding":{"x":{"field":"g","type":"quantitative","scale":{"domain":[-0.5,3.5],"nice":false,"zero":false},"axis":{"orient":"bottom","title":null,"labels":false,"grid":false,"ticks":false,"domain":true}},"y":{"field":"q1","type":"quantitative","scale":{"domain":[-0.9,28.8],"nice":false,"zero":false},"axis":{"title":"Short axis relaxation relative [%]","values":[0,5,10,15,20,25]}},"y2":{"field":"q3"},"color":{"field":"g","type":"nominal","scale":{"domain":[0,1,2,3],"range":["#5470A8","#C8603A","#5C9E52","#C4A43A"]},"legend":{"title":null,"offset":4,"symbolType":"M-2,-0.5H2V0.5H-2Z","symbolSize":30,"symbolStrokeWidth":0,"labelExpr":"['PINCH1ᶠˡ/ᶠˡ dmso control','PINCH1ᶠˡ/ᶠˡ 0.4µM Latrunculin A','PINCH1⁻/⁻ dmso control','PINCH1⁻/⁻ 0.4µM Latrunculin A'][datum.value]"}}}},
{"data":{"name":"box"},"transform":[{"filter":"datum.p==='P'"}],"mark":{"type":"tick","orient":"horizontal","color":"#3d3d3d","size":21,"thickness":1},"encoding":{"x":{"field":"g","type":"quantitative","scale":{"domain":[-0.5,3.5],"nice":false,"zero":false},"axis":null},"y":{"field":"md","type":"quantitative","scale":{"domain":[-0.9,28.8],"nice":false,"zero":false},"axis":null}}},
{"data":{"name":"out"},"transform":[{"filter":"datum.p==='P'"}],"mark":{"type":"point","shape":"diamond","filled":true,"size":10,"color":"#3d3d3d","opacity":1},"encoding":{"x":{"field":"g","type":"quantitative","scale":{"domain":[-0.5,3.5],"nice":false,"zero":false},"axis":null},"y":{"field":"v","type":"quantitative","scale":{"domain":[-0.9,28.8],"nice":false,"zero":false},"axis":null}}}
]}
],"bounds":"flush","spacing":74,"resolve":{"scale":{"color":"independent"}}}
],
"config": {
"font": "Liberation Sans",
"view": {"stroke": null},
"axis": {"labelFontSize": 8, "titleFontSize": 8.5, "labelColor": "#262626", "titleColor": "#262626", "titleFontWeight": "normal", "gridColor": "#e3e3e3", "domainColor": "#cccccc", "ticks": false, "labelPadding": 3, "labelOverlap": false},
"axisX": {"titlePadding": 1},
"axisY": {"titlePadding": 3},
"title": {"fontSize": 12.5, "fontWeight": "bold", "anchor": "start", "frame": "group", "offset": 1, "color": "#000000"},
"legend": {"orient": "top-left", "offset": 3, "labelFontSize": 4.8, "labelColor": "#262626", "padding": 3, "rowPadding": 3, "fillColor": "#ffffff", "strokeColor": "#dddddd", "cornerRadius": 2, "labelOffset": 3, "labelLimit": 200, "symbolOpacity": 1}
}
}
